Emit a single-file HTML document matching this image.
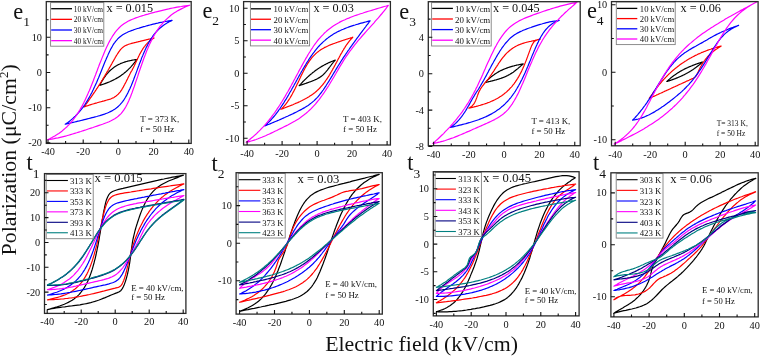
<!DOCTYPE html>
<html><head><meta charset="utf-8"><style>
html,body{margin:0;padding:0;background:#fff;width:760px;height:356px;overflow:hidden}
svg{display:block}
text{font-family:"Liberation Serif", serif;fill:#111}
svg{will-change:transform}
</style></head><body>
<svg width="760" height="356" viewBox="0 0 760 356" xmlns="http://www.w3.org/2000/svg">
<rect width="760" height="356" fill="#fff"/>
<clipPath id="ce1"><rect x="46.3" y="1.6" width="144.89999999999998" height="141.8"/></clipPath>
<g clip-path="url(#ce1)" fill="none" stroke-width="1.2" stroke-linejoin="round">
<path d="M99.7 85.3 100.2 85.2 100.6 85.1 101.1 84.9 101.5 84.8 102.0 84.6 102.4 84.5 102.9 84.3 103.3 84.2 103.7 84.0 104.2 83.9 104.6 83.7 105.1 83.6 105.5 83.4 105.9 83.2 106.4 83.1 106.8 82.9 107.2 82.7 107.7 82.6 108.1 82.4 108.5 82.2 109.0 82.0 109.4 81.9 109.8 81.7 110.3 81.5 110.7 81.3 111.1 81.1 111.5 80.9 112.0 80.7 112.4 80.5 112.8 80.3 113.2 80.1 113.6 79.9 114.0 79.7 114.5 79.5 114.9 79.3 115.3 79.0 115.7 78.8 116.1 78.6 116.5 78.4 116.9 78.1 117.3 77.9 117.7 77.7 118.1 77.4 118.5 77.2 118.9 76.9 119.3 76.7 119.7 76.4 120.1 76.2 120.5 75.9 120.9 75.6 121.2 75.4 121.6 75.1 122.0 74.8 122.4 74.5 122.7 74.3 123.1 74.0 123.5 73.7 123.9 73.4 124.2 73.1 124.6 72.8 124.9 72.5 125.3 72.2 125.7 71.9 126.0 71.6 126.4 71.3 126.7 71.0 127.0 70.7 127.4 70.4 127.7 70.0 128.1 69.7 128.4 69.4 128.7 69.1 129.1 68.7 129.4 68.4 129.7 68.1 130.0 67.7 130.4 67.4 130.7 67.1 131.0 66.7 131.3 66.4 131.6 66.0 131.9 65.7 132.2 65.3 132.5 65.0 132.8 64.6 133.1 64.3 133.4 63.9 133.7 63.5 134.0 63.2 134.3 62.8 134.6 62.4 134.9 62.1 135.2 61.7 135.5 61.3 135.8 61.0 136.0 60.6 136.3 60.2 136.6 59.9 136.9 59.5 136.4 59.5 135.9 59.6 135.4 59.7 135.0 59.7 134.5 59.8 134.0 59.9 133.5 60.0 133.1 60.0 132.6 60.1 132.1 60.2 131.6 60.3 131.2 60.4 130.7 60.5 130.2 60.6 129.8 60.7 129.3 60.8 128.8 60.9 128.4 61.0 127.9 61.1 127.4 61.2 127.0 61.4 126.5 61.5 126.0 61.6 125.6 61.8 125.1 61.9 124.7 62.1 124.2 62.2 123.7 62.4 123.3 62.5 122.8 62.7 122.4 62.9 121.9 63.0 121.5 63.2 121.0 63.4 120.6 63.6 120.2 63.8 119.7 64.0 119.3 64.2 118.9 64.4 118.4 64.6 118.0 64.8 117.6 65.1 117.2 65.3 116.7 65.6 116.3 65.8 115.9 66.1 115.5 66.3 115.1 66.6 114.7 66.8 114.3 67.1 113.9 67.4 113.5 67.7 113.2 68.0 112.8 68.3 112.4 68.6 112.0 68.9 111.7 69.2 111.3 69.5 110.9 69.8 110.6 70.1 110.2 70.5 109.9 70.8 109.5 71.1 109.2 71.5 108.9 71.8 108.5 72.2 108.2 72.5 107.9 72.9 107.6 73.3 107.3 73.6 106.9 74.0 106.6 74.4 106.3 74.7 106.0 75.1 105.8 75.5 105.5 75.9 105.2 76.3 104.9 76.7 104.6 77.1 104.3 77.5 104.1 77.8 103.8 78.2 103.5 78.7 103.3 79.1 103.0 79.5 102.8 79.9 102.5 80.3 102.3 80.7 102.0 81.1 101.8 81.5 101.5 81.9 101.3 82.4 101.1 82.8 100.8 83.2 100.6 83.6 100.4 84.1 100.2 84.5 100.0 84.9 99.7 85.3Z" stroke="#000000"/>
<path d="M83.9 107.0 84.9 106.6 85.9 106.3 86.9 105.9 87.9 105.6 88.9 105.2 89.9 104.9 90.9 104.6 91.9 104.3 92.9 104.0 93.9 103.7 94.9 103.4 95.9 103.1 97.0 102.8 98.0 102.5 99.0 102.2 100.0 102.0 101.0 101.7 102.1 101.4 103.1 101.1 104.1 100.9 105.1 100.6 106.1 100.3 107.1 100.0 108.2 99.7 109.2 99.4 110.2 99.1 111.2 98.7 112.1 98.3 113.1 97.9 114.0 97.4 114.9 96.8 115.8 96.2 116.6 95.6 117.4 94.9 118.2 94.2 118.9 93.4 119.6 92.6 120.3 91.8 120.9 90.9 121.5 90.1 122.0 89.2 122.6 88.3 123.1 87.4 123.6 86.4 124.1 85.5 124.6 84.6 125.1 83.6 125.6 82.7 126.1 81.8 126.5 80.8 127.0 79.9 127.5 78.9 127.9 78.0 128.4 77.0 128.9 76.1 129.4 75.1 129.8 74.2 130.3 73.3 130.8 72.3 131.3 71.4 131.9 70.5 132.4 69.6 132.8 68.6 133.3 67.7 133.8 66.7 134.3 65.8 134.7 64.8 135.2 63.9 135.6 62.9 136.0 62.0 136.5 61.0 136.9 60.0 137.4 59.1 137.8 58.1 138.3 57.2 138.7 56.2 139.2 55.3 139.7 54.3 140.2 53.4 140.7 52.5 141.2 51.6 141.7 50.7 142.3 49.8 142.8 48.9 143.4 48.0 144.0 47.1 144.7 46.3 145.3 45.5 146.0 44.6 146.7 43.9 147.4 43.1 148.2 42.3 149.0 41.6 149.8 40.9 150.6 40.3 151.4 39.7 152.3 39.1 153.2 38.5 154.1 38.0 153.1 38.2 152.1 38.5 151.1 38.7 150.0 39.0 149.0 39.2 148.0 39.4 147.0 39.7 145.9 39.9 144.9 40.2 143.9 40.4 142.9 40.7 141.8 40.9 140.8 41.1 139.8 41.4 138.8 41.6 137.7 41.9 136.7 42.1 135.7 42.4 134.7 42.6 133.6 42.9 132.6 43.1 131.6 43.4 130.6 43.7 129.6 44.0 128.6 44.3 127.6 44.7 126.6 45.1 125.7 45.5 124.7 46.0 123.9 46.6 123.0 47.2 122.2 47.9 121.5 48.6 120.7 49.4 120.1 50.2 119.4 51.1 118.8 51.9 118.2 52.8 117.6 53.7 117.1 54.5 116.5 55.4 116.0 56.3 115.4 57.2 114.9 58.2 114.4 59.1 113.9 60.0 113.4 60.9 112.8 61.8 112.3 62.7 111.8 63.7 111.3 64.6 110.8 65.5 110.3 66.4 109.7 67.3 109.2 68.2 108.7 69.2 108.2 70.1 107.7 71.0 107.1 71.9 106.6 72.8 106.1 73.7 105.5 74.6 105.0 75.5 104.5 76.4 103.9 77.3 103.4 78.2 102.8 79.1 102.3 80.0 101.7 80.9 101.2 81.8 100.6 82.7 100.1 83.6 99.5 84.5 98.9 85.4 98.4 86.3 97.8 87.2 97.2 88.1 96.6 88.9 96.1 89.8 95.5 90.7 94.9 91.6 94.3 92.4 93.7 93.3 93.1 94.2 92.5 95.1 91.9 95.9 91.3 96.8 90.7 97.6 90.1 98.5 89.5 99.4 88.9 100.2 88.3 101.1 87.7 101.9 87.1 102.8 86.4 103.6 85.8 104.5 85.2 105.3 84.5 106.2 83.9 107.0Z" stroke="#ff0000"/>
<path d="M65.2 124.2 66.8 123.9 68.4 123.5 70.0 123.1 71.6 122.7 73.1 122.4 74.7 122.0 76.3 121.6 77.9 121.2 79.4 120.9 81.0 120.5 82.6 120.1 84.2 119.7 85.7 119.3 87.3 118.9 88.9 118.5 90.4 118.1 92.0 117.7 93.6 117.3 95.1 116.9 96.7 116.5 98.3 116.0 99.8 115.6 101.4 115.1 102.9 114.6 104.5 114.1 106.0 113.5 107.5 113.0 109.0 112.3 110.4 111.6 111.9 110.9 113.3 110.1 114.7 109.2 116.0 108.3 117.3 107.3 118.5 106.2 119.6 105.1 120.7 103.9 121.8 102.7 122.8 101.4 123.7 100.1 124.6 98.7 125.5 97.3 126.3 95.9 127.0 94.5 127.8 93.1 128.5 91.6 129.2 90.1 129.9 88.7 130.5 87.2 131.2 85.7 131.8 84.2 132.4 82.7 133.0 81.2 133.6 79.7 134.1 78.2 134.7 76.7 135.3 75.1 135.9 73.6 136.4 72.1 137.0 70.6 137.5 69.1 138.1 67.5 138.7 66.0 139.2 64.5 139.8 63.0 140.4 61.5 141.0 60.0 141.5 58.4 142.1 56.9 142.8 55.4 143.4 53.9 144.0 52.5 144.7 51.0 145.3 49.5 146.0 48.0 146.7 46.6 147.5 45.1 148.2 43.7 149.0 42.3 149.8 40.9 150.6 39.5 151.5 38.1 152.4 36.8 153.3 35.4 154.3 34.1 155.3 32.9 156.4 31.7 157.5 30.5 158.6 29.3 159.8 28.2 161.1 27.2 162.3 26.2 163.6 25.2 165.0 24.3 166.3 23.4 167.7 22.6 169.2 21.8 170.6 21.1 172.1 20.4 170.5 20.6 168.9 20.9 167.3 21.2 165.7 21.4 164.1 21.7 162.5 22.1 161.0 22.4 159.4 22.7 157.8 23.1 156.2 23.4 154.7 23.8 153.1 24.2 151.5 24.6 150.0 25.0 148.4 25.4 146.8 25.8 145.3 26.3 143.7 26.7 142.2 27.1 140.6 27.6 139.1 28.1 137.5 28.5 136.0 29.0 134.5 29.5 132.9 30.1 131.4 30.6 129.9 31.2 128.4 31.8 127.0 32.5 125.5 33.2 124.1 34.0 122.7 34.8 121.4 35.7 120.1 36.7 118.9 37.8 117.7 38.9 116.7 40.1 115.6 41.3 114.7 42.6 113.7 43.9 112.9 45.3 112.1 46.7 111.3 48.1 110.5 49.5 109.8 51.0 109.1 52.4 108.4 53.9 107.8 55.4 107.1 56.9 106.5 58.3 105.9 59.8 105.2 61.3 104.6 62.8 104.0 64.3 103.4 65.8 102.8 67.3 102.2 68.8 101.6 70.3 101.0 71.8 100.4 73.3 99.8 74.8 99.2 76.3 98.6 77.8 97.9 79.3 97.3 80.7 96.7 82.2 96.0 83.7 95.3 85.2 94.7 86.6 94.0 88.1 93.3 89.6 92.6 91.0 91.9 92.5 91.1 93.9 90.4 95.3 89.6 96.7 88.8 98.1 88.0 99.5 87.2 100.9 86.3 102.3 85.5 103.7 84.6 105.0 83.6 106.3 82.7 107.6 81.7 108.9 80.7 110.2 79.7 111.4 78.6 112.7 77.5 113.8 76.4 115.0 75.3 116.2 74.1 117.3 72.9 118.4 71.7 119.4 70.5 120.4 69.2 121.4 67.9 122.4 66.6 123.3 65.2 124.2Z" stroke="#0000ff"/>
<path d="M47.6 139.7 49.8 139.4 51.9 139.1 54.0 138.7 56.1 138.2 58.2 137.8 60.2 137.3 62.3 136.8 64.4 136.3 66.5 135.8 68.5 135.2 70.6 134.6 72.6 134.0 74.7 133.4 76.7 132.8 78.8 132.1 80.8 131.5 82.8 130.8 84.9 130.2 86.9 129.5 88.9 128.8 91.0 128.1 93.0 127.5 95.0 126.8 97.0 126.1 99.0 125.4 101.1 124.7 103.1 124.0 105.1 123.2 107.1 122.5 109.1 121.7 111.0 120.8 112.9 119.8 114.8 118.8 116.6 117.6 118.2 116.3 119.8 114.8 121.3 113.3 122.6 111.6 123.9 109.9 125.0 108.1 126.1 106.2 127.1 104.3 128.0 102.4 128.9 100.5 129.7 98.5 130.6 96.5 131.3 94.5 132.1 92.5 132.8 90.5 133.5 88.5 134.3 86.5 134.9 84.5 135.6 82.4 136.3 80.4 137.0 78.4 137.7 76.4 138.3 74.3 139.0 72.3 139.7 70.3 140.4 68.3 141.1 66.2 141.8 64.2 142.5 62.2 143.2 60.2 143.9 58.2 144.7 56.2 145.5 54.2 146.2 52.2 147.0 50.2 147.9 48.2 148.7 46.3 149.6 44.3 150.5 42.4 151.5 40.5 152.4 38.6 153.4 36.7 154.5 34.8 155.6 33.0 156.7 31.2 157.9 29.4 159.1 27.6 160.4 25.9 161.8 24.3 163.1 22.6 164.6 21.1 166.1 19.6 167.7 18.1 169.3 16.7 170.9 15.3 172.6 14.1 174.4 12.8 176.2 11.7 178.0 10.6 179.9 9.6 181.8 8.6 183.7 7.7 185.7 6.8 187.7 6.0 189.7 5.3 187.6 5.5 185.5 5.8 183.3 6.1 181.2 6.5 179.1 6.8 177.0 7.2 174.9 7.6 172.8 8.0 170.8 8.4 168.7 8.9 166.6 9.3 164.5 9.8 162.4 10.3 160.4 10.8 158.3 11.3 156.2 11.8 154.2 12.4 152.1 12.9 150.0 13.5 148.0 14.1 145.9 14.6 143.9 15.3 141.9 15.9 139.8 16.5 137.8 17.2 135.8 17.9 133.8 18.7 131.8 19.5 129.9 20.4 128.0 21.3 126.1 22.4 124.3 23.5 122.6 24.8 120.9 26.1 119.4 27.5 117.9 29.1 116.5 30.7 115.1 32.3 113.9 34.1 112.7 35.8 111.6 37.7 110.5 39.5 109.5 41.4 108.5 43.3 107.6 45.2 106.7 47.1 105.8 49.0 104.9 51.0 104.1 53.0 103.3 54.9 102.5 56.9 101.7 58.9 100.9 60.9 100.1 62.8 99.3 64.8 98.6 66.8 97.8 68.8 97.1 70.8 96.3 72.8 95.6 74.8 94.8 76.8 94.0 78.8 93.3 80.8 92.5 82.8 91.7 84.7 90.9 86.7 90.1 88.7 89.3 90.7 88.4 92.6 87.6 94.6 86.7 96.5 85.8 98.5 84.9 100.4 84.0 102.3 83.0 104.2 82.0 106.1 81.0 107.9 79.9 109.8 78.8 111.6 77.7 113.4 76.5 115.2 75.3 117.0 74.0 118.7 72.7 120.4 71.4 122.0 70.0 123.6 68.5 125.2 67.0 126.7 65.4 128.1 63.8 129.5 62.2 130.9 60.5 132.2 58.8 133.4 57.0 134.6 55.2 135.7 53.3 136.8 51.5 137.8 49.6 138.8 47.6 139.7Z" stroke="#ff00ff"/>
</g>
<rect x="50.6" y="2.6" width="53.199999999999996" height="43.6" fill="#fff" stroke="#808080" stroke-width="0.9"/>
<line x1="51.2" x2="72" y1="8.7" y2="8.7" stroke="#000000" stroke-width="1.3"/>
<text x="73.70" y="11.74" font-size="7.4" text-anchor="start" >10 kV/cm</text>
<line x1="51.2" x2="72" y1="19.35" y2="19.35" stroke="#ff0000" stroke-width="1.3"/>
<text x="73.70" y="22.39" font-size="7.4" text-anchor="start" >20 kV/cm</text>
<line x1="51.2" x2="72" y1="30.0" y2="30.0" stroke="#0000ff" stroke-width="1.3"/>
<text x="73.70" y="33.04" font-size="7.4" text-anchor="start" >30 kV/cm</text>
<line x1="51.2" x2="72" y1="40.650000000000006" y2="40.650000000000006" stroke="#ff00ff" stroke-width="1.3"/>
<text x="73.70" y="43.69" font-size="7.4" text-anchor="start" >40 kV/cm</text>
<rect x="46.3" y="1.6" width="144.89999999999998" height="141.8" fill="none" stroke="#2a2a2a" stroke-width="1.3"/>
<path d="M48.00 143.4 v-4 M83.20 143.4 v-4 M118.40 143.4 v-4 M153.60 143.4 v-4 M188.80 143.4 v-4 M65.60 143.4 v-2.3 M100.80 143.4 v-2.3 M136.00 143.4 v-2.3 M171.20 143.4 v-2.3 M46.3 37.30 h4 M46.3 72.50 h4 M46.3 107.70 h4 M46.3 142.90 h4 M46.3 19.70 h2.3 M46.3 54.90 h2.3 M46.3 90.10 h2.3 M46.3 125.30 h2.3" stroke="#111" stroke-width="1.1" fill="none"/>
<text x="48.00" y="155.20" font-size="10.3" text-anchor="middle" >-40</text>
<text x="83.20" y="155.20" font-size="10.3" text-anchor="middle" >-20</text>
<text x="118.40" y="155.20" font-size="10.3" text-anchor="middle" >0</text>
<text x="153.60" y="155.20" font-size="10.3" text-anchor="middle" >20</text>
<text x="188.80" y="155.20" font-size="10.3" text-anchor="middle" >40</text>
<text x="42.00" y="40.80" font-size="10.3" text-anchor="end" >10</text>
<text x="42.00" y="76.00" font-size="10.3" text-anchor="end" >0</text>
<text x="42.00" y="111.20" font-size="10.3" text-anchor="end" >-10</text>
<text x="42.00" y="146.40" font-size="10.3" text-anchor="end" >-20</text>
<text x="13.2" y="18.6" font-size="22.4">e<tspan font-size="13.5" dy="7.3">1</tspan></text>
<text x="106.50" y="12.00" font-size="12.2" text-anchor="start" >x = 0.015</text>
<text x="140.30" y="121.90" font-size="8.9" text-anchor="start" >T = 373 K,</text>
<text x="140.30" y="132.30" font-size="8.9" text-anchor="start" >f = 50 Hz</text>
<clipPath id="ce2"><rect x="243.6" y="1.6" width="146.79999999999998" height="143.4"/></clipPath>
<g clip-path="url(#ce2)" fill="none" stroke-width="1.2" stroke-linejoin="round">
<path d="M299.2 85.6 299.7 85.4 300.1 85.3 300.6 85.1 301.0 85.0 301.4 84.9 301.9 84.7 302.3 84.6 302.7 84.4 303.2 84.3 303.6 84.1 304.0 84.0 304.5 83.8 304.9 83.7 305.3 83.5 305.8 83.4 306.2 83.2 306.6 83.1 307.1 82.9 307.5 82.8 307.9 82.6 308.4 82.5 308.8 82.3 309.2 82.1 309.7 82.0 310.1 81.8 310.5 81.7 311.0 81.5 311.4 81.3 311.8 81.2 312.3 81.0 312.7 80.8 313.1 80.7 313.5 80.5 314.0 80.3 314.4 80.1 314.8 80.0 315.2 79.8 315.6 79.6 316.1 79.4 316.5 79.2 316.9 79.0 317.3 78.8 317.7 78.6 318.1 78.3 318.5 78.1 318.9 77.9 319.3 77.6 319.7 77.4 320.1 77.2 320.4 76.9 320.8 76.6 321.2 76.4 321.6 76.1 321.9 75.8 322.3 75.5 322.6 75.2 323.0 74.9 323.3 74.6 323.6 74.3 324.0 74.0 324.3 73.6 324.6 73.3 324.9 73.0 325.2 72.6 325.5 72.3 325.8 71.9 326.1 71.6 326.4 71.2 326.7 70.9 327.0 70.5 327.3 70.2 327.6 69.8 327.9 69.4 328.1 69.1 328.4 68.7 328.7 68.3 329.0 68.0 329.2 67.6 329.5 67.2 329.8 66.9 330.1 66.5 330.3 66.1 330.6 65.8 330.9 65.4 331.2 65.0 331.4 64.7 331.7 64.3 332.0 63.9 332.3 63.6 332.6 63.2 332.9 62.8 333.1 62.5 333.4 62.1 333.7 61.8 334.0 61.4 334.4 61.1 334.7 60.8 335.0 60.4 335.3 60.1 334.9 60.3 334.5 60.4 334.0 60.6 333.6 60.7 333.2 60.9 332.8 61.0 332.3 61.2 331.9 61.4 331.5 61.5 331.1 61.7 330.7 61.9 330.3 62.1 329.8 62.3 329.4 62.4 329.0 62.6 328.6 62.8 328.2 63.0 327.8 63.2 327.4 63.4 327.0 63.6 326.6 63.8 326.2 64.0 325.8 64.2 325.4 64.4 325.0 64.6 324.6 64.8 324.2 65.0 323.8 65.3 323.4 65.5 323.0 65.7 322.6 65.9 322.2 66.1 321.8 66.4 321.4 66.6 321.1 66.8 320.7 67.1 320.3 67.3 319.9 67.6 319.5 67.8 319.1 68.0 318.8 68.3 318.4 68.5 318.0 68.8 317.6 69.0 317.3 69.3 316.9 69.6 316.5 69.8 316.2 70.1 315.8 70.3 315.4 70.6 315.1 70.9 314.7 71.1 314.4 71.4 314.0 71.7 313.6 72.0 313.3 72.2 312.9 72.5 312.6 72.8 312.2 73.1 311.9 73.4 311.5 73.7 311.2 73.9 310.8 74.2 310.5 74.5 310.2 74.8 309.8 75.1 309.5 75.4 309.1 75.7 308.8 76.0 308.5 76.3 308.1 76.6 307.8 76.9 307.5 77.2 307.1 77.5 306.8 77.8 306.5 78.1 306.1 78.5 305.8 78.8 305.5 79.1 305.2 79.4 304.8 79.7 304.5 80.0 304.2 80.3 303.9 80.7 303.6 81.0 303.3 81.3 302.9 81.6 302.6 82.0 302.3 82.3 302.0 82.6 301.7 82.9 301.4 83.3 301.1 83.6 300.8 83.9 300.5 84.3 300.2 84.6 299.9 84.9 299.6 85.3 299.2 85.6Z" stroke="#000000"/>
<path d="M280.9 109.3 281.9 108.9 282.9 108.6 283.9 108.2 284.9 107.8 285.9 107.4 286.8 107.0 287.8 106.6 288.8 106.2 289.8 105.9 290.8 105.5 291.8 105.1 292.8 104.7 293.8 104.2 294.8 103.8 295.7 103.4 296.7 103.0 297.7 102.6 298.7 102.1 299.6 101.7 300.6 101.2 301.6 100.8 302.5 100.3 303.5 99.8 304.4 99.3 305.4 98.8 306.3 98.3 307.2 97.8 308.1 97.2 309.0 96.7 309.9 96.1 310.8 95.5 311.7 94.9 312.6 94.3 313.4 93.7 314.3 93.0 315.1 92.4 315.9 91.7 316.7 91.0 317.5 90.2 318.3 89.5 319.0 88.8 319.8 88.0 320.5 87.2 321.2 86.4 321.9 85.6 322.6 84.8 323.3 84.0 323.9 83.1 324.6 82.3 325.2 81.4 325.8 80.5 326.4 79.7 327.0 78.8 327.6 77.9 328.2 77.0 328.8 76.1 329.3 75.2 329.9 74.3 330.4 73.4 330.9 72.4 331.5 71.5 332.0 70.6 332.5 69.7 333.0 68.7 333.6 67.8 334.1 66.9 334.6 65.9 335.1 65.0 335.6 64.0 336.1 63.1 336.6 62.2 337.1 61.2 337.6 60.3 338.1 59.3 338.6 58.4 339.1 57.5 339.6 56.5 340.1 55.6 340.6 54.6 341.1 53.7 341.7 52.8 342.2 51.9 342.7 50.9 343.3 50.0 343.8 49.1 344.4 48.2 345.0 47.3 345.5 46.4 346.1 45.5 346.7 44.6 347.3 43.8 348.0 42.9 348.6 42.1 349.3 41.2 349.9 40.4 350.6 39.6 351.3 38.8 352.1 38.0 352.8 37.2 351.8 37.6 350.7 37.9 349.7 38.2 348.7 38.5 347.7 38.9 346.6 39.2 345.6 39.5 344.6 39.9 343.5 40.2 342.5 40.5 341.5 40.9 340.5 41.2 339.4 41.6 338.4 41.9 337.4 42.3 336.4 42.6 335.4 43.0 334.3 43.4 333.3 43.7 332.3 44.1 331.3 44.5 330.3 44.9 329.3 45.3 328.3 45.8 327.3 46.2 326.4 46.7 325.4 47.1 324.4 47.6 323.5 48.2 322.5 48.7 321.6 49.2 320.7 49.8 319.8 50.4 318.9 51.1 318.1 51.7 317.2 52.4 316.4 53.1 315.6 53.8 314.8 54.6 314.1 55.3 313.3 56.1 312.6 56.9 311.9 57.7 311.2 58.6 310.6 59.4 309.9 60.3 309.3 61.2 308.7 62.1 308.1 63.0 307.5 63.9 307.0 64.8 306.4 65.8 305.9 66.7 305.3 67.6 304.8 68.6 304.3 69.5 303.8 70.5 303.3 71.5 302.8 72.4 302.3 73.4 301.9 74.4 301.4 75.3 300.9 76.3 300.5 77.3 300.0 78.2 299.5 79.2 299.1 80.2 298.6 81.2 298.2 82.2 297.7 83.1 297.2 84.1 296.8 85.1 296.3 86.1 295.8 87.0 295.4 88.0 294.9 89.0 294.4 89.9 293.9 90.9 293.4 91.9 292.9 92.8 292.4 93.8 291.9 94.7 291.4 95.7 290.8 96.6 290.3 97.5 289.7 98.5 289.1 99.4 288.5 100.3 287.9 101.2 287.3 102.1 286.7 102.9 286.0 103.8 285.4 104.6 284.7 105.5 283.9 106.3 283.2 107.1 282.5 107.8 281.7 108.6 280.9 109.3Z" stroke="#ff0000"/>
<path d="M264.8 125.9 266.2 125.4 267.6 124.8 269.1 124.2 270.5 123.6 271.9 123.0 273.4 122.4 274.8 121.8 276.2 121.2 277.6 120.6 279.1 120.0 280.5 119.4 281.9 118.7 283.3 118.1 284.7 117.5 286.2 116.8 287.6 116.2 289.0 115.5 290.4 114.9 291.8 114.2 293.2 113.6 294.6 112.9 296.0 112.2 297.4 111.5 298.7 110.8 300.1 110.1 301.5 109.4 302.8 108.6 304.2 107.9 305.5 107.1 306.8 106.2 308.1 105.4 309.4 104.5 310.6 103.6 311.8 102.6 313.0 101.6 314.2 100.6 315.3 99.5 316.4 98.4 317.5 97.3 318.5 96.1 319.5 94.9 320.4 93.7 321.4 92.5 322.3 91.2 323.2 90.0 324.1 88.7 324.9 87.4 325.8 86.1 326.6 84.8 327.4 83.5 328.3 82.2 329.1 80.9 329.9 79.5 330.7 78.2 331.5 76.9 332.3 75.6 333.1 74.2 333.9 72.9 334.7 71.6 335.5 70.3 336.3 68.9 337.1 67.6 337.9 66.3 338.7 65.0 339.6 63.7 340.4 62.4 341.2 61.0 342.1 59.7 342.9 58.4 343.7 57.2 344.6 55.9 345.5 54.6 346.3 53.3 347.2 52.0 348.1 50.7 349.0 49.5 349.9 48.2 350.8 46.9 351.7 45.7 352.6 44.4 353.5 43.1 354.4 41.9 355.3 40.6 356.2 39.4 357.1 38.1 358.1 36.9 359.0 35.7 359.9 34.4 360.8 33.2 361.8 31.9 362.7 30.7 363.6 29.5 364.6 28.2 365.5 27.0 366.4 25.7 367.3 24.5 368.3 23.3 369.2 22.0 370.1 20.8 368.6 21.2 367.1 21.6 365.6 22.0 364.1 22.4 362.6 22.8 361.1 23.2 359.5 23.6 358.0 24.1 356.5 24.5 355.0 25.0 353.6 25.4 352.1 25.9 350.6 26.4 349.1 26.9 347.6 27.5 346.2 28.0 344.7 28.6 343.3 29.2 341.8 29.8 340.4 30.5 339.0 31.1 337.6 31.8 336.2 32.6 334.8 33.3 333.5 34.1 332.2 34.9 330.9 35.8 329.6 36.7 328.3 37.6 327.1 38.6 325.9 39.5 324.7 40.6 323.5 41.6 322.4 42.7 321.2 43.8 320.1 44.9 319.1 46.0 318.0 47.2 317.0 48.4 316.0 49.6 315.0 50.8 314.1 52.1 313.1 53.3 312.2 54.6 311.3 55.8 310.4 57.1 309.6 58.4 308.7 59.7 307.9 61.1 307.0 62.4 306.2 63.7 305.4 65.1 304.6 66.4 303.8 67.7 303.0 69.1 302.2 70.5 301.4 71.8 300.7 73.2 299.9 74.5 299.1 75.9 298.4 77.3 297.6 78.6 296.9 80.0 296.1 81.4 295.4 82.8 294.6 84.1 293.9 85.5 293.1 86.9 292.3 88.2 291.6 89.6 290.8 91.0 290.0 92.3 289.2 93.7 288.5 95.0 287.7 96.4 286.9 97.7 286.1 99.1 285.2 100.4 284.4 101.7 283.6 103.1 282.7 104.4 281.9 105.7 281.0 107.0 280.1 108.3 279.2 109.5 278.3 110.8 277.4 112.1 276.4 113.3 275.5 114.6 274.5 115.8 273.5 117.0 272.5 118.2 271.4 119.3 270.4 120.5 269.3 121.6 268.2 122.7 267.1 123.8 265.9 124.9 264.8 125.9Z" stroke="#0000ff"/>
<path d="M246.2 142.2 248.2 141.8 250.2 141.3 252.2 140.7 254.2 140.1 256.1 139.5 258.0 138.8 259.9 138.0 261.8 137.3 263.7 136.5 265.6 135.7 267.5 134.8 269.4 134.0 271.2 133.1 273.1 132.2 274.9 131.3 276.8 130.5 278.6 129.5 280.4 128.6 282.3 127.7 284.1 126.8 286.0 125.9 287.8 125.0 289.6 124.0 291.4 123.0 293.2 122.0 295.0 121.0 296.7 120.0 298.5 118.9 300.2 117.7 301.8 116.5 303.5 115.3 305.1 114.1 306.7 112.7 308.2 111.4 309.7 110.0 311.2 108.6 312.6 107.1 314.0 105.6 315.4 104.1 316.7 102.5 318.0 100.9 319.3 99.3 320.5 97.7 321.7 96.0 322.9 94.3 324.1 92.7 325.2 91.0 326.4 89.2 327.5 87.5 328.6 85.8 329.7 84.0 330.7 82.3 331.8 80.5 332.8 78.8 333.9 77.0 334.9 75.2 335.9 73.5 336.9 71.7 338.0 69.9 339.0 68.1 340.0 66.4 341.1 64.6 342.2 62.9 343.2 61.1 344.3 59.4 345.4 57.7 346.6 55.9 347.7 54.3 348.9 52.6 350.1 50.9 351.4 49.3 352.6 47.6 353.9 46.0 355.1 44.4 356.4 42.8 357.7 41.2 359.0 39.7 360.4 38.1 361.7 36.5 363.0 35.0 364.4 33.5 365.8 31.9 367.1 30.4 368.5 28.9 369.9 27.3 371.2 25.8 372.6 24.3 374.0 22.8 375.3 21.2 376.7 19.7 378.1 18.2 379.4 16.6 380.7 15.0 382.0 13.5 383.3 11.9 384.6 10.3 385.9 8.7 387.1 7.0 388.3 5.4 386.3 6.0 384.3 6.5 382.3 7.1 380.3 7.7 378.4 8.3 376.4 8.9 374.4 9.5 372.4 10.1 370.4 10.7 368.4 11.3 366.4 11.9 364.4 12.5 362.5 13.2 360.5 13.8 358.5 14.5 356.6 15.1 354.6 15.8 352.7 16.5 350.7 17.3 348.8 18.1 346.9 18.8 345.0 19.7 343.1 20.5 341.2 21.4 339.3 22.4 337.5 23.4 335.7 24.4 334.0 25.5 332.2 26.7 330.6 27.9 328.9 29.2 327.3 30.5 325.8 31.9 324.2 33.3 322.8 34.8 321.3 36.3 320.0 37.8 318.6 39.4 317.3 41.0 316.1 42.7 314.8 44.4 313.6 46.0 312.5 47.8 311.3 49.5 310.2 51.3 309.1 53.0 308.0 54.8 307.0 56.6 305.9 58.4 304.9 60.2 303.9 62.0 302.9 63.8 301.9 65.6 300.9 67.5 299.9 69.3 298.9 71.1 298.0 73.0 297.0 74.8 296.0 76.6 295.0 78.5 294.0 80.3 293.1 82.1 292.1 83.9 291.1 85.8 290.1 87.6 289.1 89.4 288.1 91.2 287.0 93.0 286.0 94.8 285.0 96.6 283.9 98.4 282.8 100.2 281.7 102.0 280.6 103.7 279.5 105.5 278.4 107.2 277.2 108.9 276.1 110.7 274.9 112.4 273.7 114.0 272.4 115.7 271.2 117.4 269.9 119.0 268.6 120.6 267.3 122.2 265.9 123.8 264.6 125.4 263.2 126.9 261.7 128.4 260.3 129.9 258.8 131.4 257.3 132.8 255.8 134.3 254.3 135.6 252.7 137.0 251.1 138.3 249.5 139.7 247.9 140.9 246.2 142.2Z" stroke="#ff00ff"/>
</g>
<rect x="250.4" y="2.6" width="59.20000000000002" height="43.3" fill="#fff" stroke="#808080" stroke-width="0.9"/>
<line x1="251" x2="271" y1="8.8" y2="8.8" stroke="#000000" stroke-width="1.3"/>
<text x="273.50" y="12.29" font-size="8.75" text-anchor="start" >10 kV/cm</text>
<line x1="251" x2="271" y1="19.25" y2="19.25" stroke="#ff0000" stroke-width="1.3"/>
<text x="273.50" y="22.74" font-size="8.75" text-anchor="start" >20 kV/cm</text>
<line x1="251" x2="271" y1="29.7" y2="29.7" stroke="#0000ff" stroke-width="1.3"/>
<text x="273.50" y="33.19" font-size="8.75" text-anchor="start" >30 kV/cm</text>
<line x1="251" x2="271" y1="40.15" y2="40.15" stroke="#ff00ff" stroke-width="1.3"/>
<text x="273.50" y="43.64" font-size="8.75" text-anchor="start" >40 kV/cm</text>
<rect x="243.6" y="1.6" width="146.79999999999998" height="143.4" fill="none" stroke="#2a2a2a" stroke-width="1.3"/>
<path d="M247.10 145.0 v-4 M282.10 145.0 v-4 M317.10 145.0 v-4 M352.10 145.0 v-4 M387.10 145.0 v-4 M264.60 145.0 v-2.3 M299.60 145.0 v-2.3 M334.60 145.0 v-2.3 M369.60 145.0 v-2.3 M243.6 8.30 h4 M243.6 40.80 h4 M243.6 73.30 h4 M243.6 105.80 h4 M243.6 138.30 h4 M243.6 24.55 h2.3 M243.6 57.05 h2.3 M243.6 89.55 h2.3 M243.6 122.05 h2.3" stroke="#111" stroke-width="1.1" fill="none"/>
<text x="247.10" y="156.80" font-size="10.3" text-anchor="middle" >-40</text>
<text x="282.10" y="156.80" font-size="10.3" text-anchor="middle" >-20</text>
<text x="317.10" y="156.80" font-size="10.3" text-anchor="middle" >0</text>
<text x="352.10" y="156.80" font-size="10.3" text-anchor="middle" >20</text>
<text x="387.10" y="156.80" font-size="10.3" text-anchor="middle" >40</text>
<text x="239.30" y="11.80" font-size="10.3" text-anchor="end" >10</text>
<text x="239.30" y="44.30" font-size="10.3" text-anchor="end" >5</text>
<text x="239.30" y="76.80" font-size="10.3" text-anchor="end" >0</text>
<text x="239.30" y="109.30" font-size="10.3" text-anchor="end" >-5</text>
<text x="239.30" y="141.80" font-size="10.3" text-anchor="end" >-10</text>
<text x="202.4" y="17.6" font-size="22.4">e<tspan font-size="13.5" dy="7.3">2</tspan></text>
<text x="313.40" y="12.00" font-size="12.2" text-anchor="start" >x = 0.03</text>
<text x="343.00" y="121.90" font-size="8.9" text-anchor="start" >T = 403 K,</text>
<text x="343.00" y="132.40" font-size="8.9" text-anchor="start" >f = 50 Hz</text>
<clipPath id="ce3"><rect x="428.3" y="1.7" width="151.90000000000003" height="144.0"/></clipPath>
<g clip-path="url(#ce3)" fill="none" stroke-width="1.2" stroke-linejoin="round">
<path d="M485.3 82.5 485.7 82.4 486.2 82.3 486.6 82.2 487.0 82.1 487.4 82.0 487.9 81.9 488.3 81.8 488.7 81.7 489.1 81.6 489.5 81.5 490.0 81.4 490.4 81.3 490.8 81.2 491.2 81.1 491.7 81.0 492.1 80.9 492.5 80.8 492.9 80.7 493.3 80.6 493.8 80.5 494.2 80.3 494.6 80.2 495.0 80.1 495.4 80.0 495.9 79.9 496.3 79.8 496.7 79.7 497.1 79.5 497.5 79.4 497.9 79.3 498.4 79.2 498.8 79.0 499.2 78.9 499.6 78.8 500.0 78.6 500.4 78.5 500.8 78.4 501.2 78.2 501.7 78.1 502.1 77.9 502.5 77.8 502.9 77.6 503.3 77.5 503.7 77.3 504.1 77.2 504.5 77.0 504.9 76.8 505.3 76.7 505.7 76.5 506.1 76.3 506.5 76.1 506.9 75.9 507.3 75.7 507.7 75.5 508.0 75.3 508.4 75.1 508.8 74.9 509.2 74.7 509.6 74.5 509.9 74.3 510.3 74.1 510.7 73.8 511.0 73.6 511.4 73.4 511.8 73.1 512.1 72.9 512.5 72.7 512.9 72.4 513.2 72.2 513.6 71.9 513.9 71.6 514.3 71.4 514.6 71.1 514.9 70.9 515.3 70.6 515.6 70.3 516.0 70.0 516.3 69.8 516.6 69.5 517.0 69.2 517.3 68.9 517.6 68.7 518.0 68.4 518.3 68.1 518.6 67.8 519.0 67.5 519.3 67.2 519.6 67.0 519.9 66.7 520.3 66.4 520.6 66.1 520.9 65.8 521.3 65.5 521.6 65.3 521.9 65.0 522.2 64.7 522.6 64.4 522.9 64.1 523.3 63.9 522.8 63.9 522.4 64.0 522.0 64.1 521.5 64.2 521.1 64.3 520.7 64.3 520.2 64.4 519.8 64.5 519.4 64.6 519.0 64.7 518.5 64.8 518.1 64.9 517.7 65.0 517.3 65.0 516.8 65.1 516.4 65.2 516.0 65.3 515.6 65.4 515.1 65.5 514.7 65.6 514.3 65.8 513.9 65.9 513.4 66.0 513.0 66.1 512.6 66.2 512.2 66.3 511.8 66.4 511.3 66.6 510.9 66.7 510.5 66.8 510.1 66.9 509.7 67.1 509.3 67.2 508.8 67.3 508.4 67.5 508.0 67.6 507.6 67.8 507.2 67.9 506.8 68.1 506.4 68.2 506.0 68.4 505.6 68.5 505.2 68.7 504.8 68.8 504.4 69.0 503.9 69.2 503.5 69.3 503.1 69.5 502.8 69.7 502.4 69.9 502.0 70.1 501.6 70.3 501.2 70.4 500.8 70.6 500.4 70.8 500.0 71.0 499.6 71.2 499.2 71.4 498.8 71.6 498.5 71.9 498.1 72.1 497.7 72.3 497.3 72.5 497.0 72.7 496.6 73.0 496.2 73.2 495.9 73.4 495.5 73.7 495.1 73.9 494.8 74.2 494.4 74.4 494.0 74.7 493.7 74.9 493.3 75.2 493.0 75.4 492.6 75.7 492.3 76.0 492.0 76.2 491.6 76.5 491.3 76.8 490.9 77.0 490.6 77.3 490.3 77.6 489.9 77.9 489.6 78.2 489.3 78.5 489.0 78.8 488.7 79.1 488.3 79.4 488.0 79.7 487.7 80.0 487.4 80.3 487.1 80.6 486.8 80.9 486.5 81.2 486.2 81.6 485.9 81.9 485.6 82.2 485.3 82.5Z" stroke="#000000"/>
<path d="M468.9 108.1 470.0 107.9 471.0 107.6 472.1 107.4 473.1 107.1 474.1 106.9 475.2 106.6 476.2 106.4 477.2 106.1 478.3 105.8 479.3 105.5 480.3 105.3 481.4 104.9 482.4 104.6 483.4 104.3 484.4 104.0 485.4 103.6 486.5 103.3 487.5 102.9 488.5 102.5 489.5 102.2 490.4 101.7 491.4 101.3 492.4 100.9 493.4 100.4 494.3 100.0 495.3 99.5 496.2 99.0 497.2 98.5 498.1 98.0 499.0 97.4 499.9 96.8 500.8 96.3 501.7 95.7 502.6 95.0 503.5 94.4 504.3 93.7 505.1 93.1 506.0 92.4 506.8 91.7 507.5 91.0 508.3 90.2 509.1 89.5 509.8 88.7 510.5 87.9 511.3 87.1 512.0 86.3 512.6 85.5 513.3 84.6 514.0 83.8 514.6 82.9 515.2 82.1 515.8 81.2 516.4 80.3 517.0 79.4 517.6 78.5 518.1 77.6 518.7 76.6 519.2 75.7 519.7 74.8 520.2 73.8 520.7 72.9 521.2 71.9 521.7 71.0 522.1 70.0 522.6 69.0 523.0 68.1 523.5 67.1 523.9 66.1 524.3 65.1 524.7 64.1 525.1 63.1 525.5 62.1 525.9 61.1 526.3 60.1 526.7 59.1 527.0 58.1 527.4 57.1 527.8 56.1 528.1 55.1 528.5 54.1 528.9 53.1 529.2 52.1 529.6 51.1 530.0 50.1 530.3 49.1 530.7 48.1 531.1 47.1 531.5 46.1 532.0 45.1 532.5 44.2 533.0 43.3 533.6 42.4 534.3 41.6 535.2 40.9 536.1 40.4 537.1 39.9 538.1 39.6 539.1 39.4 540.2 39.2 539.2 39.4 538.1 39.7 537.1 39.9 536.1 40.1 535.0 40.4 534.0 40.6 533.0 40.8 532.0 41.0 530.9 41.3 529.9 41.5 528.9 41.7 527.9 42.0 526.8 42.2 525.8 42.5 524.8 42.8 523.8 43.1 522.8 43.4 521.8 43.7 520.8 44.1 519.8 44.5 518.8 44.9 517.9 45.3 516.9 45.8 516.0 46.2 515.1 46.7 514.2 47.3 513.3 47.8 512.4 48.4 511.5 49.0 510.7 49.7 509.9 50.3 509.1 51.0 508.3 51.7 507.5 52.4 506.7 53.1 506.0 53.9 505.3 54.7 504.6 55.5 503.9 56.3 503.2 57.1 502.6 57.9 502.0 58.7 501.3 59.6 500.7 60.4 500.1 61.3 499.5 62.2 498.9 63.0 498.3 63.9 497.8 64.8 497.2 65.7 496.6 66.6 496.0 67.4 495.5 68.3 494.9 69.2 494.3 70.1 493.8 71.0 493.2 71.9 492.6 72.7 492.0 73.6 491.4 74.5 490.8 75.4 490.2 76.2 489.6 77.1 489.0 77.9 488.4 78.8 487.7 79.6 487.1 80.4 486.4 81.3 485.7 82.1 485.1 82.9 484.4 83.7 483.7 84.5 483.1 85.3 482.4 86.2 481.8 87.0 481.2 87.9 480.6 88.7 480.1 89.7 479.6 90.6 479.1 91.5 478.7 92.5 478.3 93.5 477.9 94.5 477.6 95.4 477.2 96.4 476.9 97.4 476.5 98.4 476.1 99.4 475.7 100.4 475.3 101.3 474.8 102.3 474.3 103.2 473.7 104.1 473.0 104.9 472.3 105.7 471.6 106.4 470.7 107.0 469.8 107.6 468.9 108.1Z" stroke="#ff0000"/>
<path d="M450.0 127.5 451.6 127.1 453.2 126.8 454.8 126.4 456.4 126.0 458.0 125.6 459.6 125.2 461.2 124.8 462.8 124.4 464.4 124.0 466.0 123.6 467.6 123.1 469.1 122.7 470.7 122.2 472.3 121.7 473.8 121.2 475.4 120.7 477.0 120.2 478.5 119.7 480.0 119.1 481.6 118.5 483.1 117.9 484.6 117.2 486.1 116.6 487.6 115.9 489.1 115.1 490.5 114.4 492.0 113.6 493.4 112.8 494.8 111.9 496.2 111.0 497.5 110.1 498.8 109.2 500.1 108.2 501.4 107.1 502.7 106.1 503.9 105.0 505.1 103.9 506.2 102.7 507.4 101.5 508.5 100.3 509.5 99.0 510.6 97.8 511.6 96.5 512.6 95.2 513.5 93.8 514.5 92.5 515.4 91.1 516.2 89.7 517.1 88.3 517.9 86.9 518.7 85.5 519.5 84.0 520.3 82.6 521.0 81.1 521.8 79.7 522.5 78.2 523.2 76.7 523.9 75.2 524.6 73.7 525.3 72.2 525.9 70.7 526.6 69.2 527.2 67.7 527.9 66.2 528.5 64.7 529.1 63.2 529.7 61.7 530.4 60.2 531.0 58.6 531.6 57.1 532.2 55.6 532.9 54.1 533.5 52.6 534.1 51.1 534.8 49.5 535.4 48.0 536.1 46.5 536.8 45.0 537.4 43.6 538.2 42.1 538.9 40.6 539.6 39.1 540.4 37.7 541.2 36.3 542.1 34.9 542.9 33.5 543.9 32.1 544.8 30.8 545.9 29.5 547.0 28.3 548.1 27.1 549.3 26.0 550.6 25.0 551.9 24.0 553.3 23.1 554.7 22.3 556.2 21.6 557.7 21.0 559.2 20.4 557.6 20.5 556.0 20.8 554.4 21.0 552.8 21.3 551.2 21.6 549.6 21.9 548.0 22.3 546.4 22.7 544.9 23.1 543.3 23.5 541.7 24.0 540.2 24.4 538.6 24.9 537.0 25.4 535.5 25.9 534.0 26.4 532.4 26.9 530.9 27.5 529.3 28.0 527.8 28.5 526.3 29.1 524.8 29.7 523.2 30.3 521.8 31.0 520.3 31.6 518.8 32.4 517.4 33.1 516.0 33.9 514.6 34.8 513.3 35.8 512.0 36.8 510.7 37.8 509.5 38.9 508.4 40.1 507.3 41.3 506.2 42.5 505.2 43.7 504.2 45.0 503.2 46.3 502.2 47.6 501.3 49.0 500.4 50.3 499.5 51.7 498.7 53.1 497.8 54.5 497.0 55.9 496.2 57.3 495.4 58.7 494.6 60.1 493.8 61.5 493.0 63.0 492.2 64.4 491.4 65.8 490.7 67.3 489.9 68.7 489.1 70.1 488.4 71.6 487.6 73.0 486.8 74.5 486.1 75.9 485.3 77.3 484.5 78.7 483.7 80.2 482.9 81.6 482.1 83.0 481.3 84.4 480.5 85.8 479.6 87.2 478.8 88.6 477.9 90.0 477.0 91.3 476.1 92.7 475.2 94.1 474.4 95.5 473.6 96.9 472.7 98.3 471.9 99.7 471.1 101.1 470.3 102.5 469.6 103.9 468.8 105.4 467.9 106.8 467.1 108.2 466.3 109.6 465.5 111.0 464.6 112.3 463.7 113.7 462.8 115.0 461.8 116.4 460.8 117.7 459.8 118.9 458.7 120.2 457.6 121.3 456.5 122.5 455.3 123.6 454.0 124.7 452.7 125.7 451.4 126.6 450.0 127.5Z" stroke="#0000ff"/>
<path d="M432.8 143.5 434.9 143.1 437.0 142.7 439.1 142.2 441.1 141.6 443.2 141.1 445.3 140.5 447.3 139.8 449.3 139.1 451.3 138.4 453.4 137.7 455.4 136.9 457.4 136.1 459.3 135.3 461.3 134.5 463.3 133.6 465.3 132.8 467.2 131.9 469.2 131.1 471.2 130.2 473.1 129.3 475.1 128.5 477.0 127.6 479.0 126.7 481.0 125.9 482.9 125.0 484.9 124.1 486.8 123.3 488.8 122.4 490.7 121.5 492.7 120.5 494.6 119.6 496.5 118.5 498.3 117.4 500.1 116.3 501.9 115.1 503.6 113.7 505.2 112.3 506.7 110.8 508.2 109.3 509.5 107.6 510.8 105.9 512.1 104.1 513.2 102.3 514.3 100.5 515.4 98.6 516.4 96.8 517.4 94.9 518.4 92.9 519.3 91.0 520.2 89.1 521.1 87.1 521.9 85.1 522.8 83.2 523.6 81.2 524.5 79.2 525.3 77.2 526.1 75.3 526.9 73.3 527.7 71.3 528.5 69.3 529.4 67.3 530.2 65.3 531.0 63.4 531.9 61.4 532.7 59.4 533.6 57.5 534.5 55.5 535.4 53.6 536.3 51.6 537.3 49.7 538.2 47.8 539.2 45.9 540.3 44.0 541.3 42.2 542.4 40.3 543.5 38.5 544.7 36.7 545.9 34.9 547.1 33.1 548.4 31.4 549.6 29.7 551.0 28.0 552.3 26.3 553.7 24.7 555.1 23.0 556.5 21.4 558.0 19.9 559.4 18.3 560.9 16.8 562.5 15.3 564.0 13.8 565.6 12.3 567.2 10.9 568.7 9.4 570.4 8.0 572.0 6.6 573.6 5.2 575.2 3.8 576.9 2.4 574.8 2.8 572.6 3.2 570.5 3.6 568.4 4.1 566.3 4.6 564.3 5.1 562.2 5.6 560.1 6.2 558.0 6.8 556.0 7.4 553.9 8.0 551.8 8.6 549.8 9.3 547.7 9.9 545.7 10.6 543.6 11.3 541.6 12.0 539.6 12.7 537.5 13.4 535.5 14.1 533.5 14.8 531.5 15.6 529.5 16.4 527.5 17.1 525.5 17.9 523.5 18.8 521.5 19.7 519.6 20.6 517.7 21.7 515.9 22.7 514.0 23.9 512.3 25.2 510.6 26.5 509.0 27.9 507.5 29.4 506.0 31.0 504.6 32.6 503.3 34.3 502.0 36.1 500.8 37.8 499.6 39.6 498.5 41.5 497.4 43.3 496.4 45.2 495.3 47.1 494.3 49.0 493.4 50.9 492.4 52.9 491.5 54.8 490.6 56.7 489.7 58.7 488.8 60.7 487.9 62.6 487.0 64.6 486.1 66.6 485.3 68.5 484.4 70.5 483.5 72.5 482.7 74.4 481.8 76.4 480.9 78.4 480.0 80.3 479.1 82.3 478.2 84.2 477.3 86.2 476.3 88.1 475.4 90.0 474.4 91.9 473.4 93.8 472.3 95.7 471.3 97.6 470.2 99.4 469.1 101.3 468.0 103.1 466.8 104.9 465.7 106.7 464.5 108.5 463.2 110.3 462.0 112.1 460.7 113.8 459.4 115.5 458.1 117.2 456.8 118.9 455.4 120.6 454.0 122.2 452.6 123.9 451.2 125.5 449.8 127.1 448.3 128.6 446.8 130.2 445.3 131.7 443.8 133.3 442.3 134.8 440.7 136.3 439.2 137.7 437.6 139.2 436.0 140.6 434.4 142.1 432.8 143.5Z" stroke="#ff00ff"/>
</g>
<rect x="431.6" y="2.6" width="59.599999999999966" height="43.4" fill="#fff" stroke="#808080" stroke-width="0.9"/>
<line x1="432.2" x2="452.9" y1="8.4" y2="8.4" stroke="#000000" stroke-width="1.3"/>
<text x="455.00" y="11.94" font-size="8.9" text-anchor="start" >10 kV/cm</text>
<line x1="432.2" x2="452.9" y1="19.0" y2="19.0" stroke="#ff0000" stroke-width="1.3"/>
<text x="455.00" y="22.54" font-size="8.9" text-anchor="start" >20 kV/cm</text>
<line x1="432.2" x2="452.9" y1="29.6" y2="29.6" stroke="#0000ff" stroke-width="1.3"/>
<text x="455.00" y="33.14" font-size="8.9" text-anchor="start" >30 kV/cm</text>
<line x1="432.2" x2="452.9" y1="40.199999999999996" y2="40.199999999999996" stroke="#ff00ff" stroke-width="1.3"/>
<text x="455.00" y="43.74" font-size="8.9" text-anchor="start" >40 kV/cm</text>
<rect x="428.3" y="1.7" width="151.90000000000003" height="144.0" fill="none" stroke="#2a2a2a" stroke-width="1.3"/>
<path d="M433.64 145.7 v-4 M468.92 145.7 v-4 M504.20 145.7 v-4 M539.48 145.7 v-4 M574.76 145.7 v-4 M451.28 145.7 v-2.3 M486.56 145.7 v-2.3 M521.84 145.7 v-2.3 M557.12 145.7 v-2.3 M428.3 37.30 h4 M428.3 73.70 h4 M428.3 110.10 h4 M428.3 146.50 h4 M428.3 19.10 h2.3 M428.3 55.50 h2.3 M428.3 91.90 h2.3 M428.3 128.30 h2.3" stroke="#111" stroke-width="1.1" fill="none"/>
<text x="433.64" y="157.50" font-size="10.3" text-anchor="middle" >-40</text>
<text x="468.92" y="157.50" font-size="10.3" text-anchor="middle" >-20</text>
<text x="504.20" y="157.50" font-size="10.3" text-anchor="middle" >0</text>
<text x="539.48" y="157.50" font-size="10.3" text-anchor="middle" >20</text>
<text x="574.76" y="157.50" font-size="10.3" text-anchor="middle" >40</text>
<text x="424.00" y="40.80" font-size="10.3" text-anchor="end" >4</text>
<text x="424.00" y="77.20" font-size="10.3" text-anchor="end" >0</text>
<text x="424.00" y="113.60" font-size="10.3" text-anchor="end" >-4</text>
<text x="424.00" y="150.00" font-size="10.3" text-anchor="end" >-8</text>
<text x="399.3" y="18.8" font-size="22.4">e<tspan font-size="13.5" dy="7.3">3</tspan></text>
<text x="493.00" y="12.00" font-size="12.2" text-anchor="start" >x = 0.045</text>
<text x="531.40" y="123.60" font-size="8.9" text-anchor="start" >T = 413 K,</text>
<text x="531.40" y="134.10" font-size="8.9" text-anchor="start" >f = 50 Hz</text>
<clipPath id="ce4"><rect x="611.5" y="1.6" width="146.60000000000002" height="144.20000000000002"/></clipPath>
<g clip-path="url(#ce4)" fill="none" stroke-width="1.2" stroke-linejoin="round">
<path d="M666.8 81.5 667.2 81.4 667.6 81.3 668.0 81.2 668.4 81.0 668.8 80.9 669.2 80.8 669.6 80.7 670.0 80.5 670.4 80.4 670.8 80.3 671.2 80.1 671.6 80.0 671.9 79.8 672.3 79.7 672.7 79.6 673.1 79.4 673.5 79.3 673.9 79.1 674.3 79.0 674.7 78.8 675.1 78.7 675.4 78.6 675.8 78.4 676.2 78.2 676.6 78.1 677.0 77.9 677.4 77.8 677.8 77.6 678.1 77.5 678.5 77.3 678.9 77.1 679.3 77.0 679.7 76.8 680.0 76.6 680.4 76.5 680.8 76.3 681.2 76.1 681.5 75.9 681.9 75.8 682.3 75.6 682.7 75.4 683.0 75.2 683.4 75.0 683.8 74.9 684.2 74.7 684.5 74.5 684.9 74.3 685.3 74.1 685.6 73.9 686.0 73.7 686.4 73.5 686.7 73.3 687.1 73.1 687.4 72.9 687.8 72.7 688.2 72.5 688.5 72.3 688.9 72.1 689.2 71.9 689.6 71.7 690.0 71.4 690.3 71.2 690.7 71.0 691.0 70.8 691.4 70.6 691.7 70.3 692.1 70.1 692.4 69.9 692.7 69.7 693.1 69.4 693.4 69.2 693.8 69.0 694.1 68.7 694.5 68.5 694.8 68.3 695.1 68.0 695.5 67.8 695.8 67.5 696.1 67.3 696.5 67.0 696.8 66.8 697.1 66.5 697.5 66.3 697.8 66.0 698.1 65.8 698.4 65.5 698.8 65.2 699.1 65.0 699.4 64.7 699.7 64.5 700.0 64.2 700.4 63.9 700.7 63.6 701.0 63.4 701.3 63.1 701.6 62.8 701.9 62.6 702.2 62.3 702.5 62.0 702.1 62.1 701.7 62.2 701.3 62.4 700.9 62.5 700.5 62.6 700.2 62.8 699.8 62.9 699.4 63.0 699.0 63.1 698.6 63.3 698.2 63.4 697.8 63.5 697.4 63.7 697.0 63.8 696.6 64.0 696.2 64.1 695.8 64.2 695.4 64.4 695.1 64.5 694.7 64.7 694.3 64.8 693.9 65.0 693.5 65.1 693.1 65.3 692.7 65.4 692.3 65.6 692.0 65.7 691.6 65.9 691.2 66.0 690.8 66.2 690.4 66.4 690.0 66.5 689.7 66.7 689.3 66.8 688.9 67.0 688.5 67.2 688.1 67.3 687.8 67.5 687.4 67.7 687.0 67.9 686.6 68.0 686.3 68.2 685.9 68.4 685.5 68.6 685.1 68.8 684.8 68.9 684.4 69.1 684.0 69.3 683.7 69.5 683.3 69.7 682.9 69.9 682.6 70.1 682.2 70.3 681.8 70.5 681.5 70.7 681.1 70.9 680.7 71.1 680.4 71.3 680.0 71.5 679.7 71.7 679.3 71.9 678.9 72.2 678.6 72.4 678.2 72.6 677.9 72.8 677.5 73.0 677.2 73.3 676.8 73.5 676.5 73.7 676.2 73.9 675.8 74.2 675.5 74.4 675.1 74.7 674.8 74.9 674.5 75.1 674.1 75.4 673.8 75.6 673.4 75.9 673.1 76.1 672.8 76.4 672.5 76.6 672.1 76.9 671.8 77.1 671.5 77.4 671.2 77.7 670.8 77.9 670.5 78.2 670.2 78.5 669.9 78.7 669.6 79.0 669.3 79.3 668.9 79.5 668.6 79.8 668.3 80.1 668.0 80.4 667.7 80.7 667.4 81.0 667.1 81.2 666.8 81.5Z" stroke="#000000"/>
<path d="M649.3 98.4 650.2 98.0 651.0 97.6 651.9 97.2 652.7 96.8 653.5 96.4 654.4 96.1 655.2 95.7 656.1 95.3 656.9 94.9 657.8 94.5 658.6 94.1 659.4 93.7 660.3 93.3 661.1 93.0 662.0 92.6 662.8 92.2 663.7 91.8 664.5 91.4 665.3 91.0 666.2 90.6 667.0 90.2 667.9 89.9 668.7 89.5 669.6 89.1 670.4 88.7 671.3 88.3 672.1 87.9 672.9 87.5 673.8 87.1 674.6 86.8 675.5 86.4 676.3 86.0 677.2 85.6 678.0 85.2 678.8 84.8 679.7 84.4 680.5 84.0 681.4 83.7 682.2 83.3 683.1 82.9 683.9 82.5 684.8 82.1 685.6 81.7 686.4 81.3 687.3 80.9 688.1 80.6 689.0 80.2 689.8 79.8 690.7 79.4 691.5 79.0 692.3 78.6 693.2 78.2 694.0 77.8 694.8 77.2 695.5 76.6 696.0 75.9 696.5 75.1 697.0 74.3 697.4 73.5 697.8 72.6 698.2 71.8 698.6 70.9 699.0 70.1 699.4 69.3 699.8 68.4 700.2 67.6 700.6 66.8 701.1 66.0 701.5 65.2 702.0 64.4 702.5 63.6 703.0 62.8 703.5 62.0 704.0 61.3 704.6 60.5 705.1 59.8 705.7 59.0 706.3 58.3 706.9 57.6 707.5 56.9 708.1 56.2 708.8 55.5 709.4 54.9 710.1 54.2 710.8 53.6 711.5 53.0 712.2 52.4 712.9 51.8 713.6 51.2 714.3 50.6 715.1 50.1 715.8 49.5 716.6 49.0 717.3 48.5 718.1 47.9 718.9 47.4 719.7 46.9 720.5 46.4 721.2 46.0 720.4 46.2 719.5 46.4 718.6 46.7 717.7 46.9 716.8 47.2 715.9 47.5 715.0 47.7 714.2 48.0 713.3 48.3 712.4 48.6 711.5 48.9 710.7 49.2 709.8 49.5 708.9 49.8 708.0 50.1 707.2 50.4 706.3 50.7 705.4 51.1 704.6 51.4 703.7 51.7 702.9 52.1 702.0 52.4 701.2 52.8 700.3 53.2 699.5 53.6 698.6 53.9 697.8 54.3 697.0 54.7 696.1 55.1 695.3 55.5 694.5 55.9 693.7 56.4 692.9 56.8 692.0 57.2 691.2 57.7 690.4 58.1 689.6 58.6 688.8 59.0 688.0 59.5 687.2 60.0 686.5 60.5 685.7 61.0 684.9 61.4 684.1 62.0 683.3 62.5 682.6 63.0 681.8 63.5 681.1 64.0 680.3 64.6 679.6 65.1 678.8 65.7 678.1 66.2 677.4 66.8 676.6 67.4 675.9 67.9 675.2 68.5 674.5 69.1 673.8 69.7 673.1 70.3 672.4 70.9 671.7 71.5 671.0 72.1 670.3 72.8 669.7 73.4 669.0 74.0 668.3 74.7 667.7 75.3 667.0 76.0 666.4 76.6 665.7 77.3 665.1 78.0 664.5 78.6 663.8 79.3 663.2 80.0 662.6 80.7 662.0 81.4 661.4 82.1 660.8 82.8 660.2 83.5 659.6 84.2 659.0 84.9 658.4 85.6 657.9 86.4 657.3 87.1 656.7 87.8 656.2 88.5 655.6 89.3 655.1 90.0 654.5 90.8 654.0 91.5 653.4 92.3 652.9 93.0 652.4 93.8 651.9 94.5 651.4 95.3 650.8 96.1 650.3 96.8 649.8 97.6 649.3 98.4Z" stroke="#ff0000"/>
<path d="M632.5 120.2 634.0 120.0 635.4 119.7 636.9 119.3 638.3 119.0 639.7 118.5 641.1 118.1 642.5 117.6 643.9 117.1 645.3 116.5 646.6 115.9 648.0 115.3 649.3 114.7 650.6 114.0 651.9 113.3 653.2 112.6 654.5 111.9 655.7 111.1 657.0 110.3 658.3 109.6 659.5 108.7 660.7 107.9 661.9 107.1 663.2 106.3 664.4 105.4 665.6 104.5 666.7 103.7 667.9 102.8 669.1 101.9 670.3 101.0 671.5 100.1 672.6 99.2 673.8 98.3 674.9 97.4 676.1 96.4 677.2 95.5 678.3 94.5 679.5 93.6 680.6 92.6 681.7 91.6 682.7 90.6 683.8 89.6 684.9 88.5 685.9 87.5 686.9 86.4 688.0 85.4 689.0 84.3 689.9 83.2 690.9 82.1 691.9 81.0 692.8 79.8 693.7 78.7 694.6 77.5 695.5 76.3 696.4 75.1 697.3 74.0 698.2 72.8 699.0 71.5 699.8 70.3 700.7 69.1 701.5 67.9 702.3 66.6 703.1 65.4 703.9 64.1 704.7 62.9 705.4 61.6 706.2 60.4 707.0 59.1 707.7 57.9 708.5 56.6 709.3 55.3 710.0 54.1 710.8 52.8 711.6 51.6 712.4 50.3 713.1 49.1 713.9 47.8 714.7 46.6 715.6 45.3 716.4 44.1 717.2 42.9 718.1 41.7 719.0 40.5 719.9 39.4 720.8 38.2 721.8 37.1 722.8 36.0 723.8 34.9 724.9 33.9 726.0 32.9 727.1 32.0 728.3 31.1 729.5 30.2 730.7 29.4 731.9 28.6 733.2 27.9 734.5 27.2 735.9 26.6 737.2 26.0 738.6 25.4 737.2 25.9 735.8 26.3 734.4 26.8 733.0 27.4 731.6 27.9 730.2 28.4 728.9 28.9 727.5 29.5 726.1 30.1 724.8 30.7 723.4 31.2 722.1 31.8 720.7 32.5 719.4 33.1 718.1 33.7 716.7 34.4 715.4 35.1 714.1 35.8 712.8 36.5 711.5 37.2 710.2 37.9 709.0 38.6 707.7 39.4 706.4 40.2 705.1 40.9 703.9 41.6 702.6 42.4 701.3 43.1 700.0 43.8 698.7 44.5 697.4 45.2 696.1 46.0 694.8 46.7 693.5 47.4 692.2 48.1 691.0 48.9 689.7 49.6 688.4 50.4 687.2 51.2 686.0 52.0 684.7 52.8 683.5 53.7 682.4 54.6 681.2 55.5 680.1 56.5 679.0 57.4 677.9 58.4 676.8 59.4 675.7 60.5 674.7 61.6 673.7 62.6 672.8 63.8 671.8 64.9 670.9 66.0 669.9 67.2 669.1 68.4 668.2 69.6 667.3 70.7 666.5 72.0 665.6 73.2 664.8 74.4 664.0 75.6 663.2 76.9 662.4 78.1 661.6 79.4 660.8 80.6 660.0 81.9 659.2 83.1 658.5 84.4 657.7 85.6 656.9 86.9 656.2 88.2 655.4 89.4 654.6 90.7 653.8 91.9 653.0 93.2 652.3 94.5 651.5 95.7 650.7 96.9 649.9 98.2 649.1 99.4 648.2 100.6 647.4 101.9 646.6 103.1 645.7 104.3 644.9 105.5 644.0 106.7 643.1 107.9 642.2 109.1 641.3 110.2 640.4 111.4 639.5 112.5 638.5 113.7 637.6 114.8 636.6 115.9 635.6 117.0 634.6 118.1 633.6 119.1 632.5 120.2Z" stroke="#0000ff"/>
<path d="M614.2 144.1 616.0 143.3 617.9 142.4 619.8 141.5 621.7 140.6 623.5 139.6 625.4 138.7 627.2 137.8 629.1 136.8 630.9 135.9 632.8 134.9 634.6 134.0 636.5 133.0 638.3 132.0 640.1 130.9 641.9 129.9 643.7 128.9 645.5 127.8 647.3 126.7 649.0 125.6 650.8 124.5 652.5 123.4 654.3 122.2 656.0 121.1 657.7 119.9 659.4 118.7 661.0 117.4 662.7 116.2 664.3 114.9 666.0 113.6 667.6 112.3 669.1 110.9 670.7 109.5 672.3 108.2 673.8 106.7 675.3 105.3 676.8 103.8 678.2 102.4 679.7 100.9 681.1 99.3 682.5 97.8 683.8 96.2 685.2 94.6 686.5 93.0 687.8 91.4 689.1 89.8 690.3 88.1 691.6 86.4 692.8 84.8 694.0 83.1 695.2 81.3 696.3 79.6 697.5 77.9 698.6 76.1 699.7 74.4 700.8 72.6 701.9 70.8 702.9 69.0 704.0 67.2 705.0 65.4 706.1 63.6 707.1 61.8 708.1 60.0 709.1 58.2 710.1 56.4 711.1 54.6 712.1 52.7 713.1 50.9 714.1 49.1 715.1 47.3 716.2 45.5 717.2 43.7 718.2 41.8 719.2 40.0 720.3 38.2 721.3 36.5 722.4 34.7 723.5 32.9 724.7 31.2 725.8 29.4 727.0 27.7 728.2 26.0 729.4 24.4 730.7 22.7 732.0 21.1 733.4 19.5 734.7 18.0 736.2 16.5 737.7 15.0 739.2 13.6 740.8 12.2 742.4 10.9 744.0 9.7 745.7 8.5 747.4 7.3 749.2 6.2 751.0 5.1 752.8 4.0 754.6 3.0 756.4 2.1 754.6 3.0 752.8 4.0 750.9 5.0 749.1 6.0 747.3 7.0 745.4 8.0 743.6 8.9 741.8 9.9 739.9 10.9 738.1 11.9 736.3 12.9 734.5 14.0 732.7 15.0 730.9 16.0 729.0 17.0 727.2 18.1 725.4 19.1 723.7 20.2 721.9 21.2 720.1 22.3 718.3 23.4 716.5 24.4 714.8 25.5 713.0 26.7 711.2 27.8 709.5 28.9 707.8 30.1 706.1 31.2 704.3 32.4 702.6 33.6 701.0 34.8 699.3 36.1 697.6 37.3 696.0 38.6 694.4 39.9 692.8 41.2 691.2 42.6 689.6 43.9 688.1 45.3 686.5 46.8 685.0 48.2 683.6 49.7 682.1 51.1 680.7 52.7 679.3 54.2 677.9 55.8 676.6 57.4 675.3 59.0 674.0 60.6 672.7 62.2 671.5 63.9 670.2 65.6 669.0 67.3 667.9 69.0 666.7 70.8 665.6 72.5 664.5 74.3 663.4 76.1 662.4 77.8 661.3 79.6 660.3 81.5 659.3 83.3 658.3 85.1 657.3 86.9 656.3 88.8 655.3 90.6 654.4 92.4 653.4 94.3 652.5 96.1 651.5 98.0 650.5 99.8 649.6 101.7 648.6 103.5 647.6 105.3 646.7 107.2 645.7 109.0 644.7 110.8 643.6 112.6 642.6 114.4 641.5 116.2 640.4 118.0 639.3 119.7 638.1 121.5 636.9 123.2 635.7 124.8 634.4 126.5 633.1 128.1 631.8 129.7 630.4 131.2 628.9 132.7 627.4 134.1 625.9 135.5 624.3 136.9 622.7 138.2 621.0 139.5 619.3 140.7 617.6 141.9 615.9 143.0 614.2 144.1Z" stroke="#ff00ff"/>
</g>
<rect x="616.3" y="1.9" width="58.90000000000009" height="42.7" fill="#fff" stroke="#808080" stroke-width="0.9"/>
<line x1="617" x2="637.3" y1="8.4" y2="8.4" stroke="#000000" stroke-width="1.3"/>
<text x="639.80" y="11.86" font-size="8.66" text-anchor="start" >10 kV/cm</text>
<line x1="617" x2="637.3" y1="18.6" y2="18.6" stroke="#ff0000" stroke-width="1.3"/>
<text x="639.80" y="22.06" font-size="8.66" text-anchor="start" >20 kV/cm</text>
<line x1="617" x2="637.3" y1="28.799999999999997" y2="28.799999999999997" stroke="#0000ff" stroke-width="1.3"/>
<text x="639.80" y="32.26" font-size="8.66" text-anchor="start" >30 kV/cm</text>
<line x1="617" x2="637.3" y1="39.0" y2="39.0" stroke="#ff00ff" stroke-width="1.3"/>
<text x="639.80" y="42.46" font-size="8.66" text-anchor="start" >40 kV/cm</text>
<rect x="611.5" y="1.6" width="146.60000000000002" height="144.20000000000002" fill="none" stroke="#2a2a2a" stroke-width="1.3"/>
<path d="M615.20 145.8 v-4 M650.20 145.8 v-4 M685.20 145.8 v-4 M720.20 145.8 v-4 M755.20 145.8 v-4 M632.70 145.8 v-2.3 M667.70 145.8 v-2.3 M702.70 145.8 v-2.3 M737.70 145.8 v-2.3 M611.5 4.80 h4 M611.5 72.30 h4 M611.5 139.80 h4 M611.5 38.55 h2.3 M611.5 106.05 h2.3" stroke="#111" stroke-width="1.1" fill="none"/>
<text x="615.20" y="157.60" font-size="10.3" text-anchor="middle" >-40</text>
<text x="650.20" y="157.60" font-size="10.3" text-anchor="middle" >-20</text>
<text x="685.20" y="157.60" font-size="10.3" text-anchor="middle" >0</text>
<text x="720.20" y="157.60" font-size="10.3" text-anchor="middle" >20</text>
<text x="755.20" y="157.60" font-size="10.3" text-anchor="middle" >40</text>
<text x="607.20" y="8.30" font-size="10.3" text-anchor="end" >10</text>
<text x="607.20" y="75.80" font-size="10.3" text-anchor="end" >0</text>
<text x="607.20" y="143.30" font-size="10.3" text-anchor="end" >-10</text>
<text x="586.9" y="17.6" font-size="22.4">e<tspan font-size="13.5" dy="7.3">4</tspan></text>
<text x="680.50" y="12.20" font-size="12.2" text-anchor="start" >x = 0.06</text>
<text x="716.70" y="125.50" font-size="7.5" text-anchor="start" >T= 313 K,</text>
<text x="716.70" y="135.80" font-size="7.5" text-anchor="start" >f = 50 Hz</text>
<clipPath id="ct1"><rect x="44.5" y="173.6" width="141.4" height="139.79999999999998"/></clipPath>
<g clip-path="url(#ct1)" fill="none" stroke-width="1.2" stroke-linejoin="round">
<path d="M47.5 309.6 49.7 309.1 51.8 308.7 54.0 308.3 56.1 308.0 58.3 307.6 60.5 307.3 62.6 307.0 64.8 306.8 67.0 306.5 69.1 306.2 71.3 306.0 73.5 305.7 75.7 305.4 77.8 305.1 80.0 304.8 82.1 304.4 84.3 304.0 86.4 303.6 88.6 303.1 90.7 302.6 92.8 302.0 94.9 301.4 97.0 300.7 99.1 300.0 101.1 299.2 103.1 298.4 105.2 297.6 107.2 296.7 109.2 295.9 111.2 295.0 113.2 294.2 115.3 293.4 117.3 292.6 119.3 291.7 121.0 290.4 122.3 288.6 123.3 286.7 124.2 284.7 125.0 282.6 125.7 280.6 126.3 278.5 126.9 276.3 127.5 274.2 127.9 272.1 128.4 270.0 128.8 267.8 129.2 265.7 129.6 263.5 129.9 261.3 130.2 259.2 130.5 257.0 130.8 254.8 131.1 252.7 131.3 250.5 131.6 248.3 131.9 246.1 132.2 244.0 132.5 241.8 132.9 239.7 133.4 237.5 133.9 235.4 134.4 233.3 134.9 231.2 135.5 229.0 136.1 226.9 136.8 224.8 137.4 222.8 138.1 220.7 138.8 218.6 139.5 216.5 140.2 214.5 141.0 212.4 141.8 210.4 142.6 208.4 143.5 206.4 144.4 204.4 145.4 202.4 146.5 200.5 147.6 198.6 148.8 196.8 150.1 195.0 151.4 193.3 152.9 191.7 154.4 190.1 156.0 188.6 157.7 187.3 159.5 186.0 161.3 184.8 163.2 183.7 165.2 182.7 167.1 181.7 169.1 180.8 171.2 180.0 173.2 179.2 175.2 178.4 177.3 177.6 179.3 176.8 181.3 176.0 183.4 175.2 181.2 175.6 179.0 176.0 176.9 176.4 174.7 176.8 172.5 177.2 170.4 177.7 168.2 178.1 166.0 178.5 163.9 179.0 161.7 179.4 159.6 179.9 157.4 180.4 155.3 180.8 153.1 181.3 151.0 181.8 148.8 182.3 146.6 182.8 144.5 183.3 142.3 183.8 140.2 184.3 138.1 184.8 135.9 185.3 133.8 185.8 131.6 186.3 129.5 186.8 127.3 187.3 125.2 187.8 123.0 188.4 120.9 188.9 118.7 189.4 116.6 190.0 114.5 190.7 112.5 191.5 110.6 192.7 109.1 194.3 108.0 196.2 107.1 198.2 106.3 200.3 105.7 202.4 105.2 204.6 104.7 206.7 104.3 208.9 103.8 211.0 103.4 213.2 103.1 215.4 102.7 217.6 102.3 219.7 102.0 221.9 101.6 224.1 101.3 226.3 100.9 228.4 100.5 230.6 100.2 232.8 99.8 235.0 99.4 237.2 99.1 239.3 98.7 241.5 98.3 243.7 97.9 245.8 97.4 248.0 97.0 250.2 96.5 252.3 96.1 254.5 95.6 256.6 95.1 258.8 94.5 260.9 94.0 263.0 93.4 265.2 92.8 267.3 92.2 269.4 91.5 271.5 90.8 273.6 90.0 275.7 89.2 277.7 88.4 279.8 87.5 281.8 86.5 283.7 85.4 285.7 84.3 287.6 83.1 289.4 81.8 291.2 80.4 293.0 79.0 294.6 77.4 296.1 75.7 297.6 74.0 298.9 72.2 300.2 70.3 301.3 68.3 302.4 66.4 303.3 64.3 304.2 62.3 305.0 60.2 305.8 58.1 306.5 56.0 307.2 53.9 307.8 51.8 308.4 49.7 309.0 47.5 309.6Z" stroke="#000000"/>
<path d="M47.5 299.8 49.6 299.7 51.6 299.7 53.6 299.6 55.6 299.5 57.6 299.3 59.6 299.2 61.7 299.0 63.7 298.8 65.7 298.5 67.7 298.3 69.7 298.0 71.7 297.8 73.7 297.5 75.7 297.1 77.7 296.8 79.7 296.5 81.7 296.1 83.6 295.7 85.6 295.3 87.6 294.9 89.6 294.5 91.6 294.0 93.5 293.6 95.5 293.1 97.5 292.6 99.4 292.2 101.4 291.7 103.3 291.2 105.3 290.6 107.2 290.1 109.2 289.6 111.2 289.1 113.1 288.6 115.1 288.2 117.1 287.7 119.0 287.1 120.7 286.0 121.9 284.4 122.8 282.6 123.6 280.7 124.3 278.8 124.9 276.9 125.5 275.0 126.0 273.0 126.5 271.1 127.0 269.1 127.4 267.1 127.9 265.2 128.3 263.2 128.8 261.2 129.2 259.2 129.7 257.3 130.2 255.3 130.7 253.4 131.2 251.4 131.7 249.5 132.3 247.5 132.9 245.6 133.5 243.7 134.2 241.8 134.8 239.9 135.5 238.0 136.3 236.1 137.0 234.2 137.8 232.3 138.6 230.5 139.4 228.6 140.3 226.8 141.2 225.0 142.1 223.2 143.0 221.4 144.0 219.6 145.0 217.9 146.1 216.2 147.2 214.4 148.3 212.8 149.4 211.1 150.6 209.5 151.9 207.9 153.1 206.3 154.4 204.8 155.8 203.3 157.2 201.8 158.6 200.4 160.1 199.0 161.6 197.6 163.2 196.4 164.7 195.1 166.4 193.9 168.0 192.7 169.7 191.6 171.4 190.5 173.1 189.5 174.9 188.5 176.7 187.5 178.4 186.6 180.2 185.6 182.1 184.7 183.9 183.9 181.8 184.2 179.8 184.5 177.7 184.8 175.7 185.1 173.7 185.4 171.6 185.7 169.6 186.0 167.5 186.3 165.5 186.6 163.4 186.9 161.4 187.2 159.4 187.5 157.3 187.8 155.3 188.1 153.2 188.4 151.2 188.8 149.2 189.1 147.1 189.4 145.1 189.7 143.0 190.0 141.0 190.3 139.0 190.7 136.9 191.0 134.9 191.3 132.8 191.6 130.8 192.0 128.8 192.3 126.7 192.6 124.7 192.9 122.6 193.3 120.6 193.7 118.6 194.1 116.6 194.6 114.6 195.2 112.7 196.1 111.1 197.3 109.6 198.7 108.4 200.4 107.5 202.2 106.6 204.1 105.9 206.1 105.2 208.0 104.7 210.0 104.1 212.0 103.6 214.0 103.1 216.0 102.6 218.0 102.2 220.0 101.7 222.0 101.3 224.1 100.9 226.1 100.4 228.1 100.0 230.1 99.6 232.1 99.1 234.2 98.7 236.2 98.3 238.2 97.8 240.2 97.3 242.2 96.9 244.2 96.4 246.2 95.9 248.2 95.4 250.2 94.8 252.2 94.3 254.2 93.7 256.2 93.1 258.2 92.5 260.2 91.8 262.1 91.1 264.1 90.4 266.0 89.7 267.9 88.8 269.8 88.0 271.7 87.1 273.6 86.1 275.4 85.1 277.2 84.0 278.9 82.9 280.7 81.6 282.3 80.3 283.9 78.9 285.4 77.5 286.9 75.9 288.3 74.3 289.6 72.6 290.8 70.9 291.9 69.1 292.9 67.3 293.8 65.4 294.7 63.5 295.4 61.5 296.1 59.6 296.8 57.6 297.4 55.6 297.9 53.6 298.4 51.6 298.9 49.6 299.4 47.5 299.8Z" stroke="#ff0000"/>
<path d="M47.5 295.1 49.4 295.0 51.3 294.9 53.2 294.7 55.1 294.5 57.0 294.3 58.9 294.1 60.8 293.9 62.6 293.6 64.5 293.3 66.4 293.0 68.3 292.7 70.1 292.4 72.0 292.0 73.8 291.7 75.7 291.3 77.6 290.9 79.4 290.5 81.3 290.1 83.1 289.7 85.0 289.3 86.8 288.9 88.7 288.5 90.5 288.1 92.4 287.7 94.2 287.2 96.1 286.8 97.9 286.4 99.8 286.0 101.6 285.6 103.5 285.2 105.3 284.8 107.2 284.3 109.0 283.9 110.8 283.3 112.6 282.7 114.4 282.0 116.1 281.1 117.6 280.0 119.0 278.7 120.2 277.3 121.3 275.7 122.3 274.1 123.2 272.4 124.0 270.7 124.8 269.0 125.6 267.3 126.3 265.5 127.0 263.7 127.7 262.0 128.4 260.2 129.0 258.4 129.7 256.7 130.4 254.9 131.1 253.1 131.7 251.4 132.4 249.6 133.1 247.8 133.8 246.1 134.6 244.3 135.3 242.6 136.0 240.8 136.8 239.1 137.6 237.4 138.4 235.6 139.2 233.9 140.1 232.2 140.9 230.5 141.8 228.9 142.7 227.2 143.7 225.6 144.6 223.9 145.6 222.3 146.6 220.7 147.7 219.1 148.8 217.6 149.9 216.0 151.0 214.5 152.2 213.0 153.4 211.6 154.7 210.1 155.9 208.7 157.2 207.4 158.6 206.0 160.0 204.7 161.4 203.5 162.8 202.2 164.3 201.0 165.8 199.9 167.3 198.8 168.9 197.7 170.5 196.6 172.1 195.6 173.7 194.7 175.4 193.7 177.0 192.8 178.7 192.0 180.4 191.2 182.1 190.3 183.9 189.6 182.0 189.9 180.1 190.3 178.2 190.6 176.3 190.9 174.4 191.3 172.5 191.6 170.6 192.0 168.8 192.4 166.9 192.7 165.0 193.1 163.1 193.4 161.2 193.8 159.3 194.1 157.4 194.5 155.5 194.9 153.6 195.2 151.8 195.6 149.9 196.0 148.0 196.3 146.1 196.7 144.2 197.1 142.3 197.4 140.4 197.8 138.6 198.2 136.7 198.6 134.8 198.9 132.9 199.3 131.0 199.7 129.1 200.1 127.2 200.5 125.4 200.9 123.5 201.3 121.6 201.8 119.8 202.3 117.9 202.8 116.1 203.5 114.4 204.3 112.7 205.2 111.2 206.4 109.8 207.7 108.6 209.2 107.5 210.8 106.5 212.5 105.6 214.2 104.8 215.9 104.1 217.7 103.4 219.5 102.7 221.3 102.1 223.1 101.5 224.9 100.9 226.7 100.3 228.6 99.7 230.4 99.1 232.2 98.6 234.1 98.0 235.9 97.4 237.8 96.9 239.6 96.3 241.4 95.7 243.3 95.1 245.1 94.5 246.9 93.9 248.7 93.3 250.5 92.6 252.4 91.9 254.2 91.2 255.9 90.5 257.7 89.8 259.5 89.0 261.3 88.2 263.0 87.3 264.7 86.5 266.4 85.5 268.1 84.6 269.8 83.5 271.4 82.5 273.0 81.4 274.6 80.2 276.1 78.9 277.6 77.7 279.0 76.3 280.4 74.9 281.7 73.5 282.9 72.0 284.1 70.4 285.3 68.8 286.3 67.2 287.3 65.5 288.3 63.8 289.2 62.0 290.0 60.3 290.8 58.5 291.5 56.7 292.2 54.9 292.8 53.1 293.4 51.2 294.0 49.4 294.6 47.5 295.1Z" stroke="#0000ff"/>
<path d="M47.5 289.6 49.3 289.6 51.1 289.6 52.9 289.5 54.7 289.3 56.5 289.2 58.3 289.0 60.0 288.8 61.8 288.6 63.6 288.3 65.3 288.1 67.1 287.8 68.9 287.4 70.6 287.1 72.4 286.8 74.1 286.4 75.9 286.1 77.6 285.7 79.4 285.3 81.1 284.9 82.9 284.5 84.6 284.1 86.4 283.7 88.1 283.3 89.9 282.9 91.6 282.5 93.3 282.1 95.1 281.7 96.8 281.3 98.6 280.9 100.3 280.5 102.1 280.1 103.8 279.7 105.5 279.2 107.2 278.7 108.9 278.1 110.6 277.4 112.2 276.7 113.8 275.9 115.3 274.9 116.8 273.9 118.2 272.7 119.5 271.5 120.7 270.2 121.9 268.9 123.0 267.5 124.0 266.0 125.0 264.6 126.0 263.1 126.9 261.5 127.9 260.0 128.8 258.4 129.7 256.9 130.5 255.3 131.4 253.8 132.3 252.2 133.2 250.7 134.0 249.1 134.9 247.5 135.8 246.0 136.7 244.4 137.5 242.9 138.4 241.3 139.2 239.7 139.9 238.1 140.7 236.4 141.5 234.8 142.3 233.2 143.1 231.6 143.9 230.0 144.8 228.5 145.7 226.9 146.6 225.4 147.6 223.9 148.7 222.5 149.8 221.1 150.9 219.7 152.1 218.3 153.3 217.0 154.5 215.7 155.8 214.4 157.1 213.2 158.4 212.0 159.8 210.9 161.1 209.7 162.6 208.6 164.0 207.6 165.5 206.5 166.9 205.5 168.4 204.5 169.9 203.6 171.5 202.6 173.0 201.7 174.5 200.8 176.1 199.9 177.6 199.0 179.2 198.2 180.8 197.3 182.3 196.4 183.9 195.5 182.1 195.8 180.3 196.1 178.5 196.4 176.8 196.7 175.0 197.0 173.2 197.3 171.4 197.5 169.6 197.8 167.9 198.1 166.1 198.4 164.3 198.7 162.5 199.0 160.7 199.3 159.0 199.6 157.2 199.9 155.4 200.2 153.6 200.5 151.9 200.8 150.1 201.1 148.3 201.4 146.5 201.7 144.7 202.0 143.0 202.3 141.2 202.6 139.4 202.9 137.6 203.2 135.9 203.6 134.1 203.9 132.3 204.3 130.6 204.7 128.8 205.1 127.1 205.5 125.3 206.0 123.6 206.6 121.9 207.1 120.2 207.8 118.6 208.5 117.0 209.3 115.4 210.2 113.9 211.2 112.5 212.3 111.1 213.5 109.8 214.7 108.6 216.0 107.4 217.4 106.3 218.8 105.3 220.3 104.3 221.8 103.3 223.3 102.4 224.9 101.5 226.5 100.6 228.0 99.8 229.6 99.0 231.3 98.2 232.9 97.4 234.5 96.6 236.1 95.9 237.8 95.1 239.4 94.3 241.0 93.6 242.7 92.8 244.3 92.1 245.9 91.3 247.6 90.5 249.2 89.7 250.8 88.9 252.4 88.1 254.0 87.3 255.6 86.4 257.2 85.6 258.8 84.7 260.4 83.8 261.9 82.8 263.5 81.8 265.0 80.8 266.5 79.8 267.9 78.7 269.4 77.6 270.8 76.4 272.2 75.2 273.5 74.0 274.8 72.7 276.1 71.4 277.3 70.0 278.5 68.6 279.6 67.1 280.6 65.6 281.6 64.1 282.6 62.5 283.5 60.9 284.4 59.3 285.2 57.7 285.9 56.0 286.6 54.4 287.3 52.7 287.9 51.0 288.5 49.3 289.1 47.5 289.6Z" stroke="#ff00ff"/>
<path d="M47.5 285.4 49.2 285.5 51.0 285.5 52.7 285.5 54.4 285.5 56.1 285.4 57.8 285.3 59.5 285.1 61.2 285.0 62.9 284.7 64.6 284.5 66.3 284.3 68.0 284.0 69.7 283.7 71.3 283.4 73.0 283.0 74.7 282.7 76.4 282.3 78.0 281.9 79.7 281.5 81.3 281.1 83.0 280.7 84.7 280.3 86.3 279.9 88.0 279.4 89.6 279.0 91.3 278.5 92.9 278.1 94.6 277.6 96.2 277.1 97.8 276.6 99.5 276.1 101.1 275.6 102.7 275.1 104.4 274.5 106.0 273.9 107.5 273.3 109.1 272.6 110.7 271.9 112.2 271.2 113.7 270.4 115.2 269.5 116.6 268.6 118.1 267.6 119.4 266.6 120.8 265.5 122.1 264.4 123.4 263.3 124.6 262.1 125.8 260.9 127.0 259.7 128.1 258.4 129.2 257.1 130.3 255.8 131.4 254.4 132.4 253.1 133.4 251.7 134.4 250.3 135.4 248.9 136.3 247.5 137.3 246.0 138.2 244.6 139.1 243.2 140.0 241.7 140.9 240.3 141.9 238.8 142.8 237.4 143.7 235.9 144.7 234.5 145.6 233.1 146.6 231.7 147.6 230.3 148.7 229.0 149.7 227.6 150.8 226.3 152.0 225.0 153.1 223.8 154.3 222.5 155.5 221.3 156.7 220.2 158.0 219.0 159.3 217.8 160.6 216.7 161.9 215.6 163.2 214.6 164.5 213.5 165.9 212.4 167.3 211.4 168.6 210.4 170.0 209.4 171.4 208.4 172.8 207.4 174.2 206.4 175.6 205.4 177.0 204.4 178.4 203.4 179.8 202.4 181.1 201.4 182.5 200.4 183.9 199.4 182.2 199.7 180.5 200.0 178.8 200.3 177.1 200.6 175.4 200.9 173.7 201.2 172.0 201.5 170.3 201.8 168.6 202.1 166.9 202.4 165.3 202.7 163.6 203.0 161.9 203.3 160.2 203.6 158.5 203.9 156.8 204.2 155.1 204.5 153.4 204.8 151.7 205.1 150.0 205.4 148.3 205.7 146.6 206.0 144.9 206.3 143.2 206.6 141.5 206.9 139.9 207.3 138.2 207.6 136.5 207.9 134.8 208.3 133.1 208.6 131.4 209.0 129.8 209.4 128.1 209.8 126.4 210.3 124.8 210.8 123.1 211.3 121.5 211.8 119.9 212.4 118.3 213.1 116.8 213.8 115.2 214.6 113.7 215.4 112.3 216.4 110.9 217.4 109.5 218.4 108.2 219.5 106.9 220.7 105.7 221.9 104.6 223.2 103.5 224.5 102.4 225.8 101.3 227.2 100.3 228.6 99.3 230.0 98.4 231.4 97.4 232.9 96.5 234.3 95.6 235.8 94.7 237.3 93.8 238.7 92.9 240.2 92.1 241.7 91.2 243.2 90.3 244.6 89.4 246.1 88.5 247.6 87.6 249.1 86.7 250.5 85.8 252.0 84.9 253.4 83.9 254.9 83.0 256.3 82.0 257.7 81.0 259.1 79.9 260.4 78.9 261.8 77.8 263.1 76.7 264.4 75.5 265.7 74.3 267.0 73.1 268.2 71.9 269.4 70.6 270.6 69.3 271.7 68.0 272.8 66.7 273.9 65.3 274.9 63.9 275.9 62.5 276.9 61.0 277.8 59.6 278.8 58.1 279.7 56.6 280.5 55.1 281.4 53.6 282.2 52.1 283.0 50.6 283.8 49.1 284.6 47.5 285.4Z" stroke="#000080"/>
<path d="M47.5 284.8 49.2 284.9 50.9 284.9 52.6 285.0 54.3 284.9 56.0 284.9 57.7 284.8 59.4 284.6 61.1 284.5 62.8 284.3 64.5 284.0 66.2 283.8 67.9 283.5 69.6 283.2 71.2 282.9 72.9 282.6 74.6 282.2 76.2 281.9 77.9 281.5 79.5 281.1 81.2 280.7 82.8 280.3 84.5 279.9 86.1 279.4 87.8 279.0 89.4 278.5 91.1 278.1 92.7 277.6 94.3 277.1 96.0 276.7 97.6 276.2 99.2 275.7 100.9 275.2 102.5 274.6 104.1 274.1 105.7 273.5 107.3 272.9 108.9 272.2 110.4 271.6 111.9 270.8 113.4 270.0 114.9 269.2 116.4 268.3 117.8 267.3 119.2 266.4 120.5 265.3 121.9 264.2 123.1 263.1 124.4 262.0 125.6 260.8 126.8 259.6 127.9 258.3 129.1 257.0 130.2 255.7 131.2 254.4 132.3 253.0 133.3 251.7 134.3 250.3 135.2 248.9 136.2 247.5 137.1 246.1 138.1 244.7 139.0 243.2 139.9 241.8 140.8 240.4 141.8 238.9 142.7 237.5 143.6 236.1 144.6 234.7 145.5 233.2 146.5 231.9 147.5 230.5 148.6 229.1 149.6 227.8 150.7 226.5 151.9 225.3 153.0 224.0 154.2 222.8 155.4 221.6 156.7 220.4 157.9 219.3 159.2 218.2 160.5 217.1 161.9 216.0 163.2 215.0 164.5 213.9 165.9 212.9 167.3 211.9 168.6 210.9 170.0 209.9 171.4 208.9 172.8 207.9 174.2 207.0 175.6 206.0 177.0 205.0 178.4 204.0 179.8 203.0 181.2 202.0 182.5 201.0 183.9 200.0 182.2 200.3 180.5 200.6 178.8 200.9 177.1 201.1 175.4 201.4 173.8 201.7 172.1 202.0 170.4 202.3 168.7 202.6 167.0 202.9 165.3 203.2 163.6 203.5 161.9 203.7 160.3 204.0 158.6 204.3 156.9 204.6 155.2 204.9 153.5 205.2 151.8 205.5 150.1 205.8 148.5 206.1 146.8 206.4 145.1 206.8 143.4 207.1 141.7 207.4 140.1 207.7 138.4 208.0 136.7 208.4 135.0 208.7 133.4 209.1 131.7 209.5 130.0 209.9 128.4 210.3 126.7 210.7 125.1 211.2 123.4 211.7 121.8 212.3 120.2 212.9 118.6 213.5 117.1 214.2 115.5 215.0 114.0 215.8 112.6 216.7 111.2 217.7 109.8 218.7 108.5 219.8 107.2 221.0 106.0 222.2 104.8 223.4 103.7 224.7 102.6 226.0 101.5 227.3 100.5 228.7 99.5 230.1 98.5 231.5 97.6 232.9 96.6 234.3 95.7 235.8 94.8 237.2 93.9 238.7 93.0 240.1 92.1 241.6 91.2 243.1 90.3 244.5 89.4 246.0 88.5 247.4 87.5 248.9 86.6 250.3 85.7 251.7 84.7 253.2 83.8 254.6 82.8 256.0 81.8 257.4 80.8 258.7 79.7 260.1 78.7 261.5 77.6 262.8 76.5 264.1 75.4 265.4 74.2 266.6 73.0 267.9 71.8 269.1 70.6 270.3 69.3 271.4 68.0 272.5 66.7 273.6 65.3 274.7 64.0 275.7 62.6 276.7 61.1 277.6 59.7 278.5 58.2 279.4 56.8 280.3 55.3 281.1 53.7 281.9 52.2 282.7 50.7 283.4 49.1 284.1 47.5 284.8Z" stroke="#008080"/>
</g>
<rect x="46.2" y="174.4" width="47.0" height="64.29999999999998" fill="#fff" stroke="#808080" stroke-width="0.9"/>
<line x1="47" x2="67.9" y1="180.5" y2="180.5" stroke="#000000" stroke-width="1.1"/>
<text x="69.90" y="184.04" font-size="8.9" text-anchor="start" >313 K</text>
<line x1="47" x2="67.9" y1="190.95" y2="190.95" stroke="#ff0000" stroke-width="1.1"/>
<text x="69.90" y="194.49" font-size="8.9" text-anchor="start" >333 K</text>
<line x1="47" x2="67.9" y1="201.4" y2="201.4" stroke="#0000ff" stroke-width="1.1"/>
<text x="69.90" y="204.94" font-size="8.9" text-anchor="start" >353 K</text>
<line x1="47" x2="67.9" y1="211.85" y2="211.85" stroke="#ff00ff" stroke-width="1.1"/>
<text x="69.90" y="215.39" font-size="8.9" text-anchor="start" >373 K</text>
<line x1="47" x2="67.9" y1="222.3" y2="222.3" stroke="#000080" stroke-width="1.1"/>
<text x="69.90" y="225.84" font-size="8.9" text-anchor="start" >393 K</text>
<line x1="47" x2="67.9" y1="232.75" y2="232.75" stroke="#008080" stroke-width="1.1"/>
<text x="69.90" y="236.29" font-size="8.9" text-anchor="start" >413 K</text>
<rect x="44.5" y="173.6" width="141.4" height="139.79999999999998" fill="none" stroke="#2a2a2a" stroke-width="1.3"/>
<path d="M47.20 313.4 v-4 M81.20 313.4 v-4 M115.20 313.4 v-4 M149.20 313.4 v-4 M183.20 313.4 v-4 M64.20 313.4 v-2.3 M98.20 313.4 v-2.3 M132.20 313.4 v-2.3 M166.20 313.4 v-2.3 M44.5 192.80 h4 M44.5 217.62 h4 M44.5 242.45 h4 M44.5 267.27 h4 M44.5 292.10 h4 M44.5 180.39 h2.3 M44.5 205.21 h2.3 M44.5 230.04 h2.3 M44.5 254.86 h2.3 M44.5 279.69 h2.3 M44.5 304.51 h2.3" stroke="#111" stroke-width="1.1" fill="none"/>
<text x="47.20" y="325.20" font-size="10.3" text-anchor="middle" >-40</text>
<text x="81.20" y="325.20" font-size="10.3" text-anchor="middle" >-20</text>
<text x="115.20" y="325.20" font-size="10.3" text-anchor="middle" >0</text>
<text x="149.20" y="325.20" font-size="10.3" text-anchor="middle" >20</text>
<text x="183.20" y="325.20" font-size="10.3" text-anchor="middle" >40</text>
<text x="40.20" y="196.30" font-size="10.3" text-anchor="end" >20</text>
<text x="40.20" y="221.12" font-size="10.3" text-anchor="end" >10</text>
<text x="40.20" y="245.95" font-size="10.3" text-anchor="end" >0</text>
<text x="40.20" y="270.77" font-size="10.3" text-anchor="end" >-10</text>
<text x="40.20" y="295.60" font-size="10.3" text-anchor="end" >-20</text>
<text x="26.5" y="170.2" font-size="22.4">t<tspan font-size="13.5" dy="7.3">1</tspan></text>
<text x="94.60" y="182.40" font-size="12.6" text-anchor="start" >x = 0.015</text>
<text x="131.20" y="290.50" font-size="8.9" text-anchor="start" >E = 40 kV/cm,</text>
<text x="131.20" y="299.60" font-size="8.9" text-anchor="start" >f = 50 Hz</text>
<clipPath id="ct2"><rect x="236.1" y="172.7" width="146.20000000000002" height="141.40000000000003"/></clipPath>
<g clip-path="url(#ct2)" fill="none" stroke-width="1.2" stroke-linejoin="round">
<path d="M239.6 311.3 241.7 310.8 243.8 310.4 245.9 310.0 248.0 309.6 250.1 309.1 252.2 308.7 254.3 308.3 256.5 307.8 258.6 307.4 260.7 307.0 262.8 306.5 264.9 306.1 267.0 305.6 269.1 305.2 271.2 304.7 273.3 304.3 275.4 303.8 277.5 303.3 279.6 302.8 281.6 302.3 283.7 301.8 285.8 301.3 287.9 300.7 290.0 300.1 292.0 299.5 294.0 298.8 296.0 298.0 298.0 297.2 300.0 296.3 301.8 295.2 303.7 294.1 305.4 292.8 307.1 291.5 308.6 290.0 310.1 288.4 311.5 286.8 312.8 285.0 314.0 283.2 315.1 281.4 316.2 279.6 317.2 277.7 318.1 275.7 319.0 273.8 319.9 271.8 320.7 269.8 321.5 267.8 322.3 265.8 323.1 263.8 323.8 261.8 324.6 259.8 325.3 257.8 326.0 255.7 326.7 253.7 327.4 251.7 328.1 249.6 328.8 247.6 329.4 245.6 330.1 243.5 330.8 241.5 331.5 239.5 332.2 237.4 332.9 235.4 333.6 233.4 334.3 231.3 335.0 229.3 335.8 227.3 336.5 225.3 337.3 223.3 338.1 221.3 338.9 219.3 339.7 217.3 340.5 215.3 341.4 213.3 342.3 211.4 343.2 209.5 344.2 207.5 345.2 205.6 346.2 203.7 347.3 201.9 348.4 200.0 349.5 198.2 350.8 196.4 352.0 194.7 353.3 193.0 354.7 191.3 356.1 189.7 357.6 188.2 359.2 186.7 360.8 185.3 362.4 183.9 364.1 182.6 365.9 181.4 367.7 180.2 369.5 179.1 371.4 178.0 373.3 177.0 375.3 176.1 377.2 175.2 379.2 174.4 377.1 174.9 375.0 175.4 372.9 176.0 370.9 176.5 368.8 177.0 366.7 177.5 364.6 178.1 362.5 178.6 360.4 179.1 358.4 179.6 356.3 180.2 354.2 180.7 352.1 181.2 350.0 181.8 347.9 182.3 345.9 182.8 343.8 183.4 341.7 183.9 339.6 184.4 337.5 185.0 335.5 185.5 333.4 186.1 331.3 186.6 329.2 187.2 327.2 187.8 325.1 188.5 323.1 189.2 321.1 189.9 319.1 190.7 317.1 191.6 315.2 192.6 313.4 193.7 311.6 194.9 309.9 196.3 308.4 197.8 306.9 199.3 305.5 201.0 304.3 202.7 303.1 204.5 302.0 206.3 300.9 208.2 299.9 210.1 299.0 212.1 298.1 214.0 297.2 216.0 296.4 218.0 295.6 220.0 294.8 222.0 294.1 224.0 293.3 226.0 292.6 228.0 291.9 230.1 291.2 232.1 290.5 234.1 289.8 236.2 289.2 238.2 288.5 240.3 287.8 242.3 287.2 244.3 286.5 246.4 285.8 248.4 285.2 250.5 284.5 252.5 283.8 254.6 283.1 256.6 282.4 258.6 281.7 260.6 281.0 262.7 280.3 264.7 279.5 266.7 278.7 268.7 278.0 270.7 277.1 272.7 276.3 274.7 275.4 276.7 274.6 278.6 273.6 280.6 272.7 282.5 271.7 284.4 270.6 286.2 269.5 288.1 268.3 289.9 267.1 291.7 265.9 293.4 264.5 295.1 263.1 296.7 261.6 298.3 260.1 299.8 258.5 301.2 256.8 302.5 255.0 303.8 253.2 304.9 251.4 306.0 249.5 307.0 247.6 308.0 245.6 308.9 243.6 309.7 241.6 310.5 239.6 311.3Z" stroke="#000000"/>
<path d="M239.6 302.2 241.5 301.8 243.4 301.4 245.3 301.0 247.2 300.5 249.1 300.1 251.0 299.7 252.9 299.2 254.8 298.8 256.7 298.4 258.6 297.9 260.5 297.5 262.4 297.0 264.3 296.6 266.2 296.1 268.1 295.6 270.0 295.2 271.9 294.7 273.8 294.2 275.7 293.7 277.6 293.2 279.4 292.7 281.3 292.1 283.2 291.6 285.0 291.0 286.9 290.3 288.7 289.7 290.6 289.0 292.4 288.3 294.2 287.5 295.9 286.7 297.7 285.8 299.4 284.8 301.0 283.8 302.7 282.7 304.2 281.6 305.8 280.4 307.3 279.1 308.7 277.8 310.1 276.4 311.4 275.0 312.7 273.5 313.9 272.0 315.1 270.4 316.3 268.9 317.4 267.3 318.4 265.6 319.5 264.0 320.5 262.3 321.5 260.6 322.5 258.9 323.4 257.2 324.4 255.5 325.3 253.8 326.2 252.1 327.1 250.3 328.0 248.6 328.8 246.9 329.7 245.1 330.6 243.4 331.4 241.6 332.3 239.9 333.2 238.1 334.1 236.4 334.9 234.6 335.8 232.9 336.7 231.2 337.6 229.4 338.5 227.7 339.4 226.0 340.4 224.3 341.3 222.6 342.3 220.9 343.3 219.2 344.3 217.5 345.3 215.8 346.3 214.2 347.4 212.6 348.5 211.0 349.6 209.4 350.8 207.8 352.0 206.3 353.2 204.7 354.5 203.2 355.8 201.8 357.1 200.4 358.5 199.0 359.9 197.6 361.3 196.3 362.8 195.0 364.3 193.8 365.8 192.6 367.4 191.4 369.0 190.3 370.7 189.2 372.3 188.2 374.0 187.2 375.7 186.3 377.4 185.4 379.2 184.5 377.3 184.9 375.3 185.3 373.4 185.7 371.4 186.2 369.5 186.7 367.6 187.1 365.7 187.6 363.8 188.1 361.8 188.6 359.9 189.0 358.0 189.4 356.0 189.8 354.1 190.1 352.1 190.4 350.1 190.7 348.2 191.1 346.3 191.4 344.3 191.9 342.4 192.5 340.6 193.2 338.8 194.1 337.0 195.0 335.2 195.8 333.4 196.6 331.6 197.4 329.8 198.1 327.9 198.8 326.0 199.5 324.2 200.2 322.3 200.8 320.5 201.5 318.6 202.3 316.8 203.1 315.0 203.9 313.2 204.8 311.5 205.8 309.8 206.8 308.2 208.0 306.7 209.2 305.2 210.5 303.8 211.9 302.4 213.3 301.1 214.8 299.9 216.4 298.7 218.0 297.6 219.6 296.5 221.3 295.6 223.0 294.6 224.8 293.7 226.5 292.9 228.3 292.1 230.2 291.4 232.0 290.7 233.9 290.1 235.8 289.6 237.7 289.0 239.6 288.5 241.5 287.9 243.3 287.2 245.2 286.4 247.0 285.5 248.8 284.6 250.5 283.5 252.2 282.4 253.9 281.3 255.5 280.2 257.1 279.2 258.8 278.3 260.6 277.7 262.5 277.1 264.4 276.5 266.3 275.8 268.2 275.1 270.0 274.4 271.8 273.5 273.6 272.6 275.4 271.7 277.1 270.6 278.8 269.6 280.5 268.4 282.1 267.2 283.7 265.9 285.2 264.6 286.7 263.2 288.1 261.8 289.5 260.3 290.8 258.8 292.0 257.2 293.2 255.5 294.3 253.9 295.4 252.2 296.4 250.4 297.4 248.7 298.3 246.9 299.1 245.1 300.0 243.3 300.7 241.4 301.5 239.6 302.2Z" stroke="#ff0000"/>
<path d="M239.6 294.0 241.4 293.9 243.2 293.7 245.0 293.6 246.8 293.4 248.6 293.2 250.4 292.9 252.2 292.7 254.0 292.4 255.8 292.1 257.5 291.7 259.3 291.3 261.1 290.9 262.8 290.5 264.6 290.1 266.3 289.6 268.1 289.1 269.8 288.6 271.5 288.0 273.2 287.5 275.0 286.9 276.7 286.2 278.3 285.6 280.0 284.9 281.7 284.2 283.3 283.5 285.0 282.7 286.6 282.0 288.2 281.2 289.8 280.3 291.4 279.5 293.0 278.6 294.6 277.7 296.1 276.7 297.7 275.8 299.2 274.8 300.7 273.8 302.2 272.8 303.6 271.7 305.1 270.6 306.5 269.5 307.9 268.3 309.3 267.2 310.6 266.0 312.0 264.7 313.3 263.5 314.5 262.2 315.8 260.9 317.0 259.5 318.2 258.2 319.4 256.8 320.5 255.4 321.6 254.0 322.7 252.5 323.8 251.1 324.9 249.6 325.9 248.1 327.0 246.7 328.0 245.2 329.0 243.7 330.0 242.2 331.1 240.7 332.2 239.3 333.2 237.8 334.4 236.4 335.5 235.0 336.6 233.5 337.7 232.1 338.8 230.7 339.9 229.3 341.0 227.8 342.1 226.4 343.2 224.9 344.2 223.4 345.1 221.9 346.1 220.3 347.0 218.8 348.0 217.3 349.1 215.8 350.3 214.5 351.6 213.2 352.9 211.9 354.2 210.7 355.6 209.5 357.0 208.4 358.4 207.3 359.9 206.2 361.3 205.1 362.8 204.1 364.3 203.1 365.8 202.1 367.3 201.1 368.9 200.1 370.4 199.1 371.9 198.1 373.4 197.1 374.9 196.1 376.3 195.0 377.8 193.9 379.2 192.8 377.4 193.2 375.6 193.6 373.8 194.0 372.0 194.3 370.2 194.7 368.4 195.1 366.6 195.5 364.9 195.8 363.1 196.2 361.3 196.6 359.5 197.0 357.7 197.4 355.9 197.8 354.1 198.2 352.3 198.6 350.5 199.0 348.8 199.5 347.0 199.9 345.2 200.4 343.4 200.9 341.7 201.4 339.9 201.9 338.2 202.4 336.4 202.9 334.6 203.4 332.9 204.0 331.1 204.5 329.4 205.1 327.7 205.7 325.9 206.3 324.2 206.9 322.5 207.5 320.8 208.1 319.0 208.8 317.3 209.5 315.7 210.2 314.0 211.0 312.4 211.8 310.7 212.7 309.2 213.6 307.7 214.7 306.2 215.8 304.8 216.9 303.5 218.2 302.2 219.5 301.0 220.9 299.8 222.3 298.7 223.7 297.6 225.2 296.6 226.7 295.6 228.3 294.6 229.8 293.7 231.4 292.8 233.0 291.9 234.6 291.0 236.2 290.1 237.8 289.2 239.4 288.3 241.0 287.4 242.6 286.5 244.2 285.6 245.8 284.7 247.4 283.7 249.0 282.8 250.5 281.8 252.1 280.9 253.7 279.9 255.2 278.9 256.8 277.9 258.3 276.9 259.8 275.9 261.3 274.8 262.8 273.8 264.3 272.7 265.8 271.6 267.3 270.5 268.8 269.4 270.2 268.2 271.6 267.0 273.0 265.8 274.4 264.6 275.8 263.4 277.1 262.1 278.4 260.8 279.7 259.4 281.0 258.1 282.2 256.7 283.4 255.3 284.5 253.8 285.7 252.3 286.7 250.8 287.8 249.3 288.8 247.7 289.8 246.2 290.7 244.5 291.6 242.9 292.4 241.3 293.2 239.6 294.0Z" stroke="#0000ff"/>
<path d="M239.6 288.3 241.3 288.0 243.0 287.7 244.7 287.4 246.4 287.1 248.0 286.7 249.7 286.4 251.4 286.1 253.1 285.7 254.8 285.4 256.5 285.0 258.1 284.6 259.8 284.3 261.5 283.9 263.2 283.5 264.8 283.1 266.5 282.7 268.1 282.2 269.8 281.8 271.5 281.3 273.1 280.8 274.8 280.3 276.4 279.8 278.0 279.3 279.6 278.7 281.3 278.1 282.9 277.5 284.4 276.8 286.0 276.2 287.6 275.5 289.2 274.7 290.7 274.0 292.2 273.2 293.7 272.4 295.2 271.5 296.7 270.6 298.2 269.7 299.6 268.8 301.0 267.9 302.4 266.9 303.8 265.9 305.2 264.8 306.6 263.8 307.9 262.7 309.2 261.6 310.5 260.5 311.8 259.4 313.1 258.2 314.4 257.1 315.6 255.9 316.9 254.7 318.1 253.5 319.3 252.3 320.6 251.1 321.8 249.9 323.0 248.7 324.2 247.4 325.4 246.2 326.6 245.0 327.8 243.7 329.0 242.5 330.2 241.3 331.3 240.0 332.5 238.8 333.7 237.6 334.9 236.3 336.1 235.1 337.3 233.9 338.5 232.6 339.7 231.4 340.9 230.2 342.1 229.0 343.4 227.8 344.6 226.6 345.8 225.4 347.1 224.2 348.3 223.0 349.6 221.8 350.8 220.6 352.1 219.5 353.4 218.3 354.6 217.2 355.9 216.0 357.2 214.9 358.5 213.8 359.8 212.7 361.2 211.6 362.5 210.5 363.9 209.5 365.2 208.4 366.6 207.4 367.9 206.3 369.3 205.3 370.7 204.3 372.1 203.3 373.5 202.3 374.9 201.3 376.3 200.3 377.8 199.4 379.2 198.5 377.5 198.7 375.8 198.9 374.0 199.2 372.3 199.5 370.6 199.8 368.9 200.1 367.2 200.4 365.5 200.8 363.8 201.1 362.1 201.5 360.4 201.9 358.7 202.3 357.0 202.6 355.3 203.0 353.6 203.5 351.9 203.9 350.2 204.3 348.5 204.7 346.8 205.1 345.1 205.6 343.5 206.0 341.8 206.5 340.1 206.9 338.4 207.4 336.7 207.8 335.1 208.3 333.4 208.8 331.7 209.2 330.0 209.7 328.4 210.3 326.7 210.8 325.1 211.4 323.4 211.9 321.8 212.6 320.2 213.2 318.6 213.9 317.0 214.7 315.5 215.4 313.9 216.3 312.4 217.1 311.0 218.1 309.5 219.0 308.1 220.1 306.7 221.1 305.4 222.2 304.1 223.4 302.8 224.6 301.6 225.8 300.3 227.0 299.2 228.3 298.0 229.6 296.8 230.9 295.7 232.2 294.6 233.6 293.5 234.9 292.4 236.3 291.4 237.7 290.3 239.1 289.2 240.4 288.2 241.8 287.1 243.2 286.1 244.6 285.1 246.0 284.0 247.4 283.0 248.8 281.9 250.2 280.8 251.5 279.8 252.9 278.7 254.3 277.6 255.7 276.5 257.0 275.5 258.4 274.4 259.8 273.3 261.1 272.2 262.5 271.1 263.8 269.9 265.1 268.7 266.3 267.4 267.5 266.1 268.7 264.8 269.8 263.4 270.9 262.0 271.9 260.6 272.9 259.1 273.9 257.7 274.8 256.2 275.8 254.8 276.7 253.3 277.7 251.8 278.6 250.4 279.6 249.0 280.5 247.5 281.5 246.1 282.6 244.7 283.6 243.4 284.7 242.1 285.9 240.8 287.1 239.6 288.3Z" stroke="#ff00ff"/>
<path d="M239.6 284.9 241.2 284.6 242.9 284.3 244.5 284.0 246.2 283.6 247.8 283.3 249.5 283.0 251.1 282.6 252.8 282.3 254.4 281.9 256.1 281.6 257.7 281.2 259.3 280.9 261.0 280.5 262.6 280.2 264.3 279.8 265.9 279.4 267.5 279.0 269.1 278.6 270.8 278.2 272.4 277.7 274.0 277.3 275.6 276.8 277.2 276.3 278.8 275.8 280.4 275.3 282.0 274.8 283.6 274.2 285.2 273.6 286.7 273.0 288.3 272.3 289.8 271.7 291.3 271.0 292.9 270.2 294.4 269.5 295.8 268.7 297.3 267.9 298.8 267.0 300.2 266.2 301.6 265.3 303.0 264.4 304.4 263.4 305.8 262.5 307.2 261.5 308.5 260.5 309.8 259.5 311.2 258.4 312.5 257.4 313.8 256.3 315.0 255.2 316.3 254.1 317.6 253.0 318.8 251.9 320.1 250.8 321.3 249.6 322.5 248.5 323.8 247.3 325.0 246.2 326.2 245.0 327.4 243.9 328.6 242.7 329.8 241.5 331.0 240.4 332.2 239.2 333.4 238.0 334.6 236.9 335.8 235.7 337.0 234.5 338.3 233.3 339.5 232.2 340.7 231.0 341.9 229.9 343.1 228.7 344.4 227.6 345.6 226.4 346.8 225.3 348.1 224.2 349.3 223.1 350.6 222.0 351.9 220.9 353.1 219.8 354.4 218.7 355.7 217.6 357.0 216.6 358.3 215.5 359.7 214.5 361.0 213.5 362.3 212.4 363.7 211.5 365.0 210.5 366.4 209.5 367.8 208.5 369.2 207.6 370.6 206.7 372.0 205.8 373.4 204.9 374.8 204.0 376.3 203.1 377.7 202.3 379.2 201.5 377.5 201.8 375.9 202.1 374.2 202.4 372.5 202.7 370.8 203.1 369.2 203.4 367.5 203.7 365.8 204.1 364.2 204.4 362.5 204.7 360.8 205.0 359.2 205.4 357.5 205.7 355.8 206.0 354.2 206.4 352.5 206.7 350.8 207.1 349.2 207.4 347.5 207.8 345.8 208.1 344.2 208.5 342.5 208.8 340.8 209.2 339.2 209.6 337.5 210.0 335.9 210.4 334.2 210.8 332.6 211.2 330.9 211.6 329.3 212.1 327.6 212.5 326.0 213.0 324.4 213.5 322.8 214.1 321.2 214.7 319.6 215.3 318.0 215.9 316.5 216.6 315.0 217.4 313.4 218.2 312.0 219.0 310.5 219.9 309.1 220.8 307.7 221.8 306.3 222.8 305.0 223.9 303.7 225.0 302.5 226.1 301.2 227.3 300.0 228.5 298.8 229.7 297.6 231.0 296.5 232.2 295.4 233.5 294.3 234.8 293.2 236.1 292.1 237.4 291.0 238.7 289.9 240.0 288.8 241.3 287.7 242.6 286.7 243.9 285.6 245.3 284.5 246.6 283.4 247.9 282.4 249.2 281.3 250.5 280.2 251.8 279.1 253.1 277.9 254.4 276.8 255.7 275.7 256.9 274.5 258.2 273.4 259.4 272.2 260.7 271.0 261.9 269.8 263.1 268.6 264.3 267.3 265.4 266.1 266.6 264.8 267.7 263.5 268.8 262.2 269.9 260.9 271.0 259.6 272.1 258.3 273.1 256.9 274.2 255.5 275.2 254.2 276.2 252.8 277.1 251.3 278.1 249.9 279.0 248.5 279.9 247.0 280.8 245.6 281.7 244.1 282.5 242.6 283.3 241.1 284.1 239.6 284.9Z" stroke="#000080"/>
<path d="M239.6 282.3 241.2 282.0 242.8 281.7 244.4 281.3 246.1 281.0 247.7 280.7 249.3 280.3 250.9 280.0 252.5 279.6 254.1 279.3 255.7 278.9 257.3 278.6 259.0 278.2 260.6 277.8 262.2 277.4 263.8 277.1 265.4 276.7 267.0 276.2 268.6 275.8 270.1 275.4 271.7 275.0 273.3 274.5 274.9 274.0 276.5 273.6 278.0 273.1 279.6 272.5 281.2 272.0 282.7 271.5 284.3 270.9 285.8 270.3 287.4 269.7 288.9 269.1 290.4 268.4 291.9 267.7 293.4 267.1 294.9 266.3 296.3 265.6 297.8 264.8 299.3 264.1 300.7 263.2 302.1 262.4 303.5 261.6 304.9 260.7 306.3 259.8 307.7 258.9 309.1 258.0 310.4 257.0 311.8 256.1 313.1 255.1 314.4 254.1 315.7 253.1 317.0 252.1 318.3 251.1 319.6 250.1 320.9 249.0 322.2 248.0 323.4 246.9 324.7 245.8 325.9 244.8 327.2 243.7 328.4 242.6 329.7 241.5 330.9 240.4 332.1 239.3 333.4 238.3 334.6 237.2 335.9 236.1 337.1 235.0 338.3 233.9 339.6 232.8 340.8 231.7 342.1 230.7 343.3 229.6 344.6 228.5 345.8 227.4 347.1 226.4 348.4 225.3 349.6 224.3 350.9 223.2 352.2 222.2 353.5 221.2 354.8 220.2 356.1 219.1 357.4 218.1 358.7 217.1 360.0 216.1 361.3 215.2 362.7 214.2 364.0 213.2 365.4 212.3 366.7 211.3 368.1 210.4 369.4 209.5 370.8 208.6 372.2 207.7 373.6 206.8 375.0 205.9 376.4 205.0 377.8 204.2 379.2 203.3 377.6 203.6 375.9 203.9 374.3 204.2 372.6 204.5 371.0 204.8 369.3 205.1 367.7 205.4 366.0 205.7 364.4 206.0 362.7 206.3 361.1 206.6 359.4 206.9 357.8 207.2 356.1 207.5 354.5 207.8 352.8 208.1 351.2 208.4 349.6 208.7 347.9 209.0 346.3 209.4 344.6 209.7 343.0 210.0 341.4 210.4 339.7 210.7 338.1 211.1 336.4 211.5 334.8 211.9 333.2 212.3 331.6 212.7 330.0 213.1 328.3 213.6 326.7 214.0 325.1 214.5 323.6 215.1 322.0 215.6 320.4 216.2 318.9 216.9 317.3 217.5 315.8 218.3 314.3 219.0 312.9 219.8 311.4 220.7 310.0 221.5 308.6 222.5 307.2 223.4 305.9 224.4 304.6 225.5 303.3 226.6 302.0 227.7 300.8 228.8 299.6 229.9 298.4 231.1 297.2 232.3 296.1 233.5 294.9 234.7 293.8 236.0 292.7 237.2 291.5 238.5 290.4 239.7 289.3 241.0 288.2 242.2 287.2 243.5 286.1 244.8 285.0 246.0 283.9 247.3 282.8 248.6 281.7 249.8 280.5 251.1 279.4 252.3 278.3 253.5 277.1 254.8 276.0 256.0 274.8 257.2 273.7 258.4 272.5 259.6 271.3 260.7 270.0 261.9 268.8 263.0 267.6 264.1 266.3 265.2 265.0 266.3 263.7 267.4 262.4 268.4 261.1 269.4 259.8 270.4 258.4 271.4 257.0 272.4 255.7 273.3 254.3 274.3 252.8 275.2 251.4 276.0 250.0 276.9 248.5 277.7 247.1 278.5 245.6 279.3 244.1 280.1 242.6 280.9 241.1 281.6 239.6 282.3Z" stroke="#008080"/>
</g>
<rect x="238.2" y="173.5" width="47.0" height="64.5" fill="#fff" stroke="#808080" stroke-width="0.9"/>
<line x1="238.8" x2="260.4" y1="179.7" y2="179.7" stroke="#000000" stroke-width="1.1"/>
<text x="262.20" y="183.15" font-size="8.65" text-anchor="start" >333 K</text>
<line x1="238.8" x2="260.4" y1="190.29999999999998" y2="190.29999999999998" stroke="#ff0000" stroke-width="1.1"/>
<text x="262.20" y="193.75" font-size="8.65" text-anchor="start" >343 K</text>
<line x1="238.8" x2="260.4" y1="200.89999999999998" y2="200.89999999999998" stroke="#0000ff" stroke-width="1.1"/>
<text x="262.20" y="204.35" font-size="8.65" text-anchor="start" >353 K</text>
<line x1="238.8" x2="260.4" y1="211.5" y2="211.5" stroke="#ff00ff" stroke-width="1.1"/>
<text x="262.20" y="214.95" font-size="8.65" text-anchor="start" >363 K</text>
<line x1="238.8" x2="260.4" y1="222.1" y2="222.1" stroke="#000080" stroke-width="1.1"/>
<text x="262.20" y="225.55" font-size="8.65" text-anchor="start" >373 K</text>
<line x1="238.8" x2="260.4" y1="232.7" y2="232.7" stroke="#008080" stroke-width="1.1"/>
<text x="262.20" y="236.15" font-size="8.65" text-anchor="start" >423 K</text>
<rect x="236.1" y="172.7" width="146.20000000000002" height="141.40000000000003" fill="none" stroke="#2a2a2a" stroke-width="1.3"/>
<path d="M239.60 314.1 v-4 M274.50 314.1 v-4 M309.40 314.1 v-4 M344.30 314.1 v-4 M379.20 314.1 v-4 M257.05 314.1 v-2.3 M291.95 314.1 v-2.3 M326.85 314.1 v-2.3 M361.75 314.1 v-2.3 M236.1 205.60 h4 M236.1 243.20 h4 M236.1 280.80 h4 M236.1 186.80 h2.3 M236.1 224.40 h2.3 M236.1 262.00 h2.3 M236.1 299.60 h2.3" stroke="#111" stroke-width="1.1" fill="none"/>
<text x="239.60" y="325.90" font-size="10.3" text-anchor="middle" >-40</text>
<text x="274.50" y="325.90" font-size="10.3" text-anchor="middle" >-20</text>
<text x="309.40" y="325.90" font-size="10.3" text-anchor="middle" >0</text>
<text x="344.30" y="325.90" font-size="10.3" text-anchor="middle" >20</text>
<text x="379.20" y="325.90" font-size="10.3" text-anchor="middle" >40</text>
<text x="231.80" y="209.10" font-size="10.3" text-anchor="end" >10</text>
<text x="231.80" y="246.70" font-size="10.3" text-anchor="end" >0</text>
<text x="231.80" y="284.30" font-size="10.3" text-anchor="end" >-10</text>
<text x="211.5" y="170.6" font-size="22.4">t<tspan font-size="13.5" dy="7.3">2</tspan></text>
<text x="297.50" y="182.70" font-size="12.6" text-anchor="start" >x = 0.03</text>
<text x="325.20" y="287.20" font-size="8.8" text-anchor="start" >E = 40 kV/cm,</text>
<text x="325.20" y="297.50" font-size="8.8" text-anchor="start" >f = 50 Hz</text>
<clipPath id="ct3"><rect x="433.3" y="171.7" width="145.8" height="144.2"/></clipPath>
<g clip-path="url(#ct3)" fill="none" stroke-width="1.2" stroke-linejoin="round">
<path d="M436.4 311.7 438.6 311.8 440.7 311.8 442.9 311.9 445.1 311.8 447.2 311.8 449.4 311.7 451.6 311.6 453.7 311.4 455.9 311.3 458.0 311.0 460.2 310.8 462.3 310.6 464.5 310.3 466.6 310.0 468.8 309.6 470.9 309.3 473.1 308.9 475.2 308.6 477.3 308.2 479.4 307.8 481.6 307.3 483.7 306.9 485.8 306.4 487.9 305.9 490.0 305.4 492.1 304.8 494.2 304.2 496.2 303.5 498.3 302.7 500.2 301.9 502.2 300.9 504.1 299.9 505.9 298.7 507.7 297.4 509.3 296.0 510.9 294.5 512.3 292.9 513.7 291.3 515.0 289.6 516.3 287.8 517.5 286.0 518.6 284.1 519.6 282.2 520.7 280.3 521.7 278.4 522.6 276.4 523.5 274.5 524.4 272.5 525.2 270.5 526.0 268.5 526.8 266.5 527.6 264.4 528.3 262.4 529.0 260.3 529.7 258.3 530.3 256.2 530.9 254.1 531.6 252.0 532.2 250.0 532.7 247.9 533.3 245.8 533.9 243.7 534.5 241.6 535.1 239.5 535.7 237.4 536.3 235.4 536.9 233.3 537.5 231.2 538.2 229.2 538.9 227.1 539.6 225.1 540.3 223.0 541.1 221.0 541.9 219.0 542.7 217.0 543.5 215.0 544.4 213.0 545.3 211.0 546.3 209.1 547.3 207.2 548.3 205.3 549.4 203.4 550.5 201.5 551.7 199.7 552.9 197.9 554.2 196.1 555.5 194.4 556.9 192.8 558.3 191.1 559.8 189.6 561.4 188.1 563.0 186.6 564.7 185.3 566.4 183.9 568.1 182.6 569.9 181.4 571.6 180.1 573.4 178.9 575.3 177.7 573.2 176.9 571.1 176.3 569.0 175.9 566.8 175.6 564.6 175.6 562.4 175.7 560.2 176.0 558.1 176.3 555.9 176.7 553.8 177.2 551.6 177.7 549.5 178.2 547.4 178.7 545.2 179.2 543.1 179.7 540.9 180.2 538.8 180.6 536.7 181.1 534.5 181.6 532.4 182.0 530.2 182.5 528.1 183.0 525.9 183.5 523.8 183.9 521.7 184.5 519.6 185.0 517.4 185.6 515.3 186.2 513.3 186.9 511.2 187.8 509.3 188.7 507.3 189.8 505.5 191.0 503.8 192.3 502.2 193.8 500.7 195.4 499.3 197.1 498.0 198.9 496.7 200.7 495.6 202.5 494.5 204.4 493.4 206.4 492.5 208.3 491.5 210.3 490.6 212.3 489.7 214.3 488.8 216.3 488.0 218.3 487.2 220.4 486.4 222.4 485.7 224.5 485.0 226.6 484.4 228.7 483.8 230.8 483.2 232.9 482.7 235.1 482.2 237.2 481.7 239.3 481.3 241.5 480.8 243.6 480.3 245.8 479.8 247.9 479.3 250.0 478.8 252.2 478.2 254.3 477.6 256.4 477.0 258.5 476.3 260.6 475.6 262.6 474.8 264.7 474.1 266.7 473.3 268.8 472.5 270.8 471.6 272.9 470.8 274.9 470.0 276.9 469.1 278.9 468.2 281.0 467.3 282.9 466.4 284.9 465.4 286.9 464.4 288.8 463.3 290.7 462.1 292.6 460.9 294.4 459.7 296.2 458.3 298.0 456.9 299.6 455.4 301.2 453.8 302.7 452.1 304.1 450.3 305.4 448.5 306.6 446.6 307.7 444.6 308.7 442.6 309.6 440.6 310.3 438.5 311.0 436.4 311.7Z" stroke="#000000"/>
<path d="M436.4 302.8 438.4 302.6 440.4 302.4 442.4 302.1 444.4 301.9 446.4 301.7 448.4 301.4 450.4 301.2 452.4 300.9 454.4 300.6 456.4 300.4 458.4 300.1 460.4 299.8 462.4 299.5 464.4 299.2 466.4 298.9 468.4 298.6 470.4 298.3 472.4 298.0 474.4 297.6 476.4 297.3 478.3 296.9 480.3 296.5 482.3 296.1 484.3 295.7 486.2 295.3 488.2 294.8 490.2 294.3 492.1 293.8 494.0 293.2 496.0 292.6 497.9 291.9 499.7 291.1 501.6 290.3 503.4 289.4 505.2 288.5 506.9 287.4 508.6 286.3 510.2 285.1 511.7 283.8 513.2 282.4 514.6 281.0 516.0 279.5 517.3 277.9 518.5 276.3 519.6 274.7 520.8 273.0 521.8 271.3 522.9 269.6 523.8 267.8 524.8 266.0 525.7 264.2 526.6 262.4 527.5 260.6 528.3 258.8 529.1 256.9 530.0 255.1 530.8 253.2 531.5 251.4 532.3 249.5 533.1 247.6 533.8 245.8 534.6 243.9 535.3 242.0 536.0 240.1 536.8 238.3 537.5 236.4 538.2 234.5 539.0 232.6 539.7 230.7 540.5 228.9 541.2 227.0 542.0 225.1 542.7 223.2 543.5 221.4 544.3 219.5 545.1 217.7 545.9 215.8 546.8 214.0 547.7 212.2 548.6 210.4 549.6 208.6 550.6 206.9 551.6 205.2 552.7 203.5 553.9 201.8 555.1 200.2 556.4 198.7 557.7 197.2 559.2 195.8 560.7 194.4 562.3 193.2 563.9 192.0 565.6 190.9 567.3 189.8 569.0 188.7 570.7 187.6 572.4 186.5 574.0 185.3 575.6 184.1 573.6 184.3 571.6 184.6 569.6 184.9 567.6 185.1 565.6 185.4 563.6 185.7 561.7 186.1 559.7 186.4 557.7 186.7 555.7 187.0 553.7 187.4 551.7 187.7 549.8 188.1 547.8 188.5 545.8 188.8 543.8 189.2 541.9 189.6 539.9 190.0 537.9 190.4 535.9 190.8 534.0 191.2 532.0 191.7 530.0 192.1 528.1 192.5 526.1 193.0 524.2 193.5 522.2 194.0 520.3 194.5 518.3 195.0 516.4 195.6 514.5 196.2 512.6 196.9 510.7 197.6 508.9 198.4 507.1 199.4 505.4 200.4 503.7 201.5 502.1 202.7 500.6 204.0 499.2 205.5 497.8 207.0 496.6 208.5 495.4 210.2 494.3 211.9 493.3 213.6 492.3 215.3 491.3 217.1 490.4 218.9 489.5 220.7 488.7 222.5 487.9 224.4 487.1 226.2 486.3 228.1 485.5 229.9 484.8 231.8 484.1 233.7 483.3 235.6 482.6 237.4 481.9 239.3 481.2 241.2 480.5 243.1 479.9 245.0 479.2 246.9 478.5 248.8 477.8 250.6 477.1 252.5 476.3 254.4 475.6 256.3 474.8 258.1 474.1 260.0 473.3 261.8 472.5 263.7 471.6 265.5 470.7 267.3 469.8 269.1 468.9 270.9 467.9 272.7 466.9 274.4 465.9 276.1 464.8 277.8 463.6 279.5 462.4 281.1 461.2 282.7 459.9 284.2 458.6 285.8 457.3 287.2 455.9 288.7 454.4 290.1 452.9 291.4 451.4 292.8 449.9 294.0 448.3 295.2 446.6 296.4 445.0 297.6 443.3 298.7 441.6 299.7 439.9 300.8 438.1 301.8 436.4 302.8Z" stroke="#ff0000"/>
<path d="M436.4 296.5 438.3 296.5 440.2 296.4 442.1 296.4 444.0 296.3 445.9 296.2 447.8 296.1 449.7 296.0 451.6 295.8 453.5 295.6 455.4 295.4 457.2 295.2 459.1 295.0 461.0 294.7 462.9 294.4 464.8 294.1 466.6 293.7 468.5 293.4 470.3 293.0 472.2 292.6 474.0 292.1 475.9 291.7 477.7 291.2 479.5 290.6 481.4 290.1 483.2 289.5 485.0 288.9 486.8 288.2 488.5 287.6 490.3 286.8 492.0 286.1 493.8 285.3 495.5 284.5 497.2 283.6 498.8 282.7 500.5 281.8 502.1 280.8 503.7 279.8 505.3 278.7 506.8 277.6 508.4 276.5 509.9 275.3 511.3 274.1 512.8 272.9 514.2 271.6 515.6 270.3 516.9 269.0 518.3 267.7 519.6 266.3 520.9 264.9 522.1 263.5 523.4 262.0 524.6 260.5 525.7 259.0 526.8 257.5 527.9 255.9 529.0 254.3 530.0 252.7 530.9 251.1 531.9 249.5 532.8 247.8 533.7 246.1 534.6 244.4 535.4 242.7 536.3 241.0 537.1 239.3 537.9 237.6 538.7 235.9 539.5 234.2 540.3 232.4 541.1 230.7 541.9 229.0 542.7 227.2 543.4 225.5 544.2 223.8 545.1 222.1 545.9 220.4 546.8 218.7 547.6 217.0 548.5 215.3 549.5 213.7 550.5 212.1 551.5 210.5 552.6 208.9 553.7 207.3 554.8 205.8 556.0 204.4 557.3 202.9 558.5 201.5 559.9 200.2 561.3 198.9 562.7 197.6 564.2 196.4 565.7 195.3 567.3 194.2 568.9 193.2 570.5 192.3 572.2 191.4 573.9 190.5 575.6 189.7 573.7 189.9 571.9 190.2 570.0 190.5 568.1 190.7 566.3 191.0 564.4 191.4 562.5 191.7 560.7 192.0 558.8 192.4 557.0 192.8 555.1 193.2 553.3 193.6 551.4 194.0 549.6 194.4 547.7 194.8 545.9 195.2 544.1 195.7 542.2 196.1 540.4 196.6 538.6 197.0 536.7 197.5 534.9 198.0 533.1 198.5 531.3 199.0 529.4 199.5 527.6 200.0 525.8 200.5 524.0 201.0 522.2 201.6 520.4 202.2 518.6 202.8 516.8 203.4 515.1 204.1 513.3 204.8 511.6 205.6 509.9 206.4 508.2 207.2 506.6 208.2 505.0 209.2 503.4 210.2 501.9 211.4 500.4 212.6 499.0 213.8 497.7 215.1 496.4 216.5 495.1 217.9 493.9 219.4 492.7 220.9 491.6 222.4 490.5 223.9 489.5 225.5 488.5 227.1 487.5 228.7 486.6 230.4 485.7 232.0 484.8 233.7 483.9 235.3 483.1 237.0 482.2 238.7 481.4 240.4 480.6 242.1 479.8 243.9 479.0 245.6 478.2 247.3 477.5 249.0 476.7 250.7 476.0 252.5 475.2 254.2 474.4 255.9 473.7 257.7 472.9 259.4 472.1 261.1 471.3 262.8 470.5 264.5 469.6 266.2 468.6 267.8 467.6 269.4 466.6 271.0 465.4 272.5 464.2 273.9 463.0 275.3 461.6 276.7 460.3 278.0 458.9 279.3 457.4 280.5 456.0 281.7 454.5 282.8 453.0 283.9 451.4 285.0 449.9 286.1 448.3 287.2 446.8 288.3 445.2 289.4 443.7 290.5 442.2 291.6 440.7 292.7 439.2 293.9 437.8 295.2 436.4 296.5Z" stroke="#0000ff"/>
<path d="M436.4 293.4 438.2 293.4 440.1 293.3 441.9 293.2 443.7 293.1 445.6 293.0 447.4 292.8 449.2 292.6 451.1 292.4 452.9 292.2 454.7 292.0 456.5 291.7 458.3 291.4 460.1 291.1 462.0 290.8 463.8 290.4 465.6 290.1 467.4 289.7 469.1 289.3 470.9 288.9 472.7 288.4 474.5 288.0 476.3 287.5 478.0 287.0 479.8 286.5 481.6 285.9 483.3 285.4 485.1 284.8 486.8 284.2 488.5 283.6 490.2 282.9 491.9 282.2 493.6 281.5 495.3 280.8 497.0 280.0 498.7 279.2 500.3 278.4 501.9 277.5 503.5 276.6 505.1 275.7 506.6 274.7 508.2 273.7 509.7 272.6 511.1 271.5 512.6 270.4 514.0 269.2 515.3 268.0 516.7 266.7 518.0 265.4 519.3 264.1 520.5 262.8 521.8 261.4 522.9 260.0 524.1 258.6 525.2 257.1 526.4 255.7 527.4 254.2 528.5 252.7 529.6 251.2 530.6 249.7 531.6 248.1 532.6 246.6 533.6 245.1 534.6 243.5 535.6 241.9 536.5 240.4 537.5 238.8 538.4 237.2 539.4 235.7 540.3 234.1 541.3 232.5 542.2 230.9 543.2 229.4 544.1 227.8 545.1 226.3 546.1 224.7 547.1 223.1 548.1 221.6 549.1 220.1 550.1 218.5 551.1 217.0 552.2 215.5 553.2 214.0 554.3 212.5 555.4 211.0 556.5 209.6 557.7 208.1 558.8 206.7 560.0 205.3 561.3 204.0 562.5 202.6 563.8 201.3 565.2 200.1 566.5 198.9 568.0 197.7 569.4 196.6 570.9 195.5 572.4 194.5 574.0 193.5 575.6 192.6 573.8 192.9 572.0 193.2 570.2 193.6 568.3 193.9 566.5 194.2 564.7 194.6 562.9 194.9 561.1 195.3 559.3 195.7 557.5 196.1 555.7 196.4 553.9 196.8 552.1 197.2 550.3 197.6 548.5 198.0 546.7 198.4 544.9 198.9 543.2 199.3 541.4 199.7 539.6 200.1 537.8 200.5 536.0 201.0 534.2 201.4 532.4 201.8 530.6 202.3 528.8 202.7 527.1 203.2 525.3 203.6 523.5 204.1 521.7 204.6 520.0 205.1 518.2 205.7 516.5 206.3 514.7 206.9 513.0 207.6 511.3 208.3 509.7 209.1 508.0 209.9 506.4 210.9 504.9 211.9 503.4 212.9 502.0 214.1 500.6 215.3 499.2 216.6 498.0 217.9 496.7 219.2 495.5 220.6 494.3 222.0 493.1 223.4 491.9 224.8 490.7 226.2 489.5 227.6 488.2 228.9 487.0 230.3 485.8 231.7 484.6 233.1 483.6 234.6 482.5 236.2 481.6 237.8 480.8 239.4 480.1 241.1 479.5 242.8 478.9 244.6 478.3 246.3 477.7 248.1 477.0 249.8 476.3 251.5 475.5 253.1 474.6 254.7 473.5 256.2 472.5 257.7 471.5 259.3 470.6 260.9 469.8 262.5 468.9 264.2 468.0 265.8 467.0 267.3 465.9 268.8 464.7 270.2 463.5 271.6 462.2 272.8 460.8 274.1 459.4 275.2 457.9 276.4 456.4 277.4 454.9 278.5 453.4 279.5 451.8 280.5 450.3 281.5 448.7 282.5 447.2 283.5 445.7 284.6 444.2 285.6 442.8 286.8 441.4 288.0 440.0 289.2 438.7 290.6 437.5 292.0 436.4 293.4Z" stroke="#ff00ff"/>
<path d="M436.4 290.6 438.2 290.4 439.9 290.2 441.7 290.0 443.5 289.7 445.2 289.5 447.0 289.2 448.8 289.0 450.5 288.7 452.3 288.5 454.1 288.2 455.8 287.9 457.6 287.7 459.3 287.4 461.1 287.1 462.8 286.8 464.6 286.5 466.4 286.1 468.1 285.8 469.8 285.5 471.6 285.1 473.3 284.7 475.1 284.3 476.8 283.9 478.5 283.5 480.3 283.1 482.0 282.6 483.7 282.1 485.4 281.6 487.1 281.1 488.8 280.5 490.5 279.9 492.2 279.3 493.8 278.7 495.5 278.0 497.1 277.3 498.7 276.6 500.3 275.8 501.9 275.0 503.5 274.1 505.0 273.3 506.6 272.3 508.1 271.4 509.6 270.4 511.0 269.4 512.4 268.3 513.8 267.2 515.2 266.1 516.6 264.9 517.9 263.7 519.2 262.5 520.4 261.2 521.7 259.9 522.9 258.6 524.1 257.3 525.3 256.0 526.4 254.6 527.5 253.2 528.6 251.8 529.7 250.4 530.8 249.0 531.8 247.5 532.8 246.1 533.9 244.6 534.9 243.1 535.9 241.7 536.9 240.2 537.8 238.7 538.8 237.2 539.8 235.7 540.7 234.2 541.7 232.7 542.6 231.2 543.6 229.7 544.6 228.2 545.5 226.7 546.5 225.2 547.5 223.7 548.5 222.2 549.5 220.8 550.5 219.3 551.6 217.9 552.6 216.4 553.7 215.0 554.8 213.6 555.9 212.2 557.1 210.9 558.3 209.6 559.5 208.3 560.8 207.0 562.1 205.8 563.4 204.7 564.8 203.5 566.3 202.5 567.7 201.5 569.2 200.5 570.8 199.6 572.4 198.8 574.0 198.0 575.6 197.3 573.8 197.5 572.0 197.7 570.3 197.9 568.5 198.2 566.7 198.4 564.9 198.7 563.2 199.0 561.4 199.2 559.6 199.5 557.9 199.8 556.1 200.2 554.3 200.5 552.6 200.8 550.8 201.2 549.1 201.5 547.3 201.9 545.6 202.2 543.8 202.6 542.1 203.0 540.3 203.4 538.6 203.8 536.8 204.2 535.1 204.7 533.4 205.1 531.6 205.5 529.9 206.0 528.2 206.5 526.5 207.0 524.7 207.5 523.0 208.0 521.3 208.5 519.6 209.1 517.9 209.7 516.2 210.3 514.6 211.0 512.9 211.7 511.3 212.4 509.7 213.2 508.1 214.0 506.5 214.9 505.0 215.8 503.5 216.8 502.0 217.8 500.6 218.9 499.2 220.0 497.9 221.2 496.5 222.4 495.3 223.6 494.0 224.9 492.7 226.2 491.4 227.4 490.1 228.6 488.8 229.9 487.5 231.1 486.2 232.3 484.9 233.6 483.7 234.9 482.6 236.3 481.7 237.8 480.9 239.4 480.2 241.1 479.6 242.8 479.1 244.5 478.6 246.2 478.0 247.9 477.4 249.6 476.6 251.2 475.7 252.8 474.6 254.2 473.4 255.5 472.0 256.7 470.9 258.1 470.1 259.6 469.4 261.3 468.8 263.0 468.1 264.6 467.2 266.2 466.1 267.5 464.8 268.8 463.4 269.9 462.0 271.0 460.5 272.1 459.1 273.2 457.7 274.3 456.3 275.4 454.9 276.5 453.4 277.6 452.0 278.6 450.6 279.7 449.2 280.8 447.8 281.9 446.3 283.0 444.9 284.1 443.5 285.2 442.1 286.3 440.6 287.3 439.2 288.4 437.8 289.5 436.4 290.6Z" stroke="#000080"/>
<path d="M436.4 287.3 438.1 287.1 439.9 286.9 441.6 286.8 443.3 286.6 445.0 286.4 446.7 286.1 448.5 285.9 450.2 285.7 451.9 285.5 453.6 285.2 455.3 285.0 457.1 284.7 458.8 284.5 460.5 284.2 462.2 283.9 463.9 283.6 465.6 283.3 467.3 283.0 469.0 282.7 470.7 282.4 472.4 282.0 474.1 281.6 475.8 281.2 477.5 280.8 479.2 280.4 480.9 280.0 482.6 279.5 484.2 279.0 485.9 278.5 487.5 278.0 489.2 277.5 490.8 276.9 492.4 276.3 494.1 275.6 495.7 275.0 497.3 274.3 498.8 273.6 500.4 272.8 502.0 272.1 503.5 271.2 505.0 270.4 506.5 269.5 508.0 268.6 509.4 267.7 510.9 266.7 512.3 265.7 513.7 264.7 515.1 263.6 516.4 262.5 517.8 261.4 519.1 260.3 520.4 259.1 521.6 257.9 522.9 256.7 524.1 255.5 525.3 254.2 526.5 252.9 527.6 251.7 528.8 250.3 529.9 249.0 531.0 247.7 532.1 246.3 533.2 245.0 534.2 243.6 535.3 242.2 536.3 240.8 537.4 239.5 538.4 238.1 539.4 236.7 540.4 235.2 541.4 233.8 542.4 232.4 543.5 231.0 544.5 229.6 545.5 228.2 546.5 226.8 547.5 225.4 548.6 224.0 549.6 222.6 550.7 221.2 551.7 219.9 552.8 218.5 553.9 217.2 555.0 215.8 556.2 214.5 557.4 213.3 558.6 212.0 559.8 210.8 561.0 209.6 562.3 208.4 563.7 207.3 565.1 206.3 566.5 205.2 567.9 204.3 569.4 203.4 570.9 202.5 572.4 201.7 574.0 201.0 575.6 200.3 573.9 200.6 572.1 200.8 570.4 201.1 568.7 201.4 567.0 201.7 565.2 202.0 563.5 202.3 561.8 202.6 560.1 202.9 558.3 203.2 556.6 203.5 554.9 203.8 553.2 204.1 551.5 204.4 549.7 204.8 548.0 205.1 546.3 205.5 544.6 205.8 542.9 206.2 541.2 206.5 539.5 206.9 537.7 207.3 536.0 207.7 534.3 208.1 532.6 208.5 530.9 208.9 529.2 209.4 527.6 209.8 525.9 210.3 524.2 210.8 522.5 211.3 520.9 211.9 519.2 212.4 517.6 213.0 515.9 213.6 514.3 214.3 512.7 215.0 511.1 215.7 509.5 216.5 508.0 217.3 506.4 218.1 504.9 219.0 503.4 219.9 502.0 220.9 500.5 221.9 499.2 223.0 497.8 224.1 496.5 225.2 495.2 226.4 493.9 227.6 492.7 228.8 491.4 230.0 490.1 231.3 488.9 232.4 487.5 233.6 486.2 234.7 484.8 235.8 483.4 236.8 482.0 237.9 480.9 239.2 480.0 240.7 479.3 242.4 478.8 244.0 478.3 245.7 477.8 247.4 477.3 249.0 476.7 250.7 475.9 252.2 474.8 253.6 473.5 254.8 472.1 255.8 470.6 256.8 469.5 258.1 468.9 259.7 468.4 261.4 467.9 263.1 467.3 264.7 466.4 266.2 465.2 267.5 463.8 268.6 462.4 269.6 460.9 270.5 459.5 271.5 458.0 272.5 456.6 273.5 455.2 274.6 453.8 275.6 452.4 276.7 451.0 277.7 449.6 278.8 448.2 279.8 446.8 280.9 445.4 281.9 443.9 282.8 442.4 283.8 441.0 284.7 439.5 285.6 437.9 286.5 436.4 287.3Z" stroke="#008080"/>
</g>
<rect x="435.1" y="172.5" width="46.299999999999955" height="63.900000000000006" fill="#fff" stroke="#808080" stroke-width="0.9"/>
<line x1="435.7" x2="455.9" y1="178.5" y2="178.5" stroke="#000000" stroke-width="1.1"/>
<text x="458.30" y="181.96" font-size="8.66" text-anchor="start" >313 K</text>
<line x1="435.7" x2="455.9" y1="189.1" y2="189.1" stroke="#ff0000" stroke-width="1.1"/>
<text x="458.30" y="192.56" font-size="8.66" text-anchor="start" >323 K</text>
<line x1="435.7" x2="455.9" y1="199.7" y2="199.7" stroke="#0000ff" stroke-width="1.1"/>
<text x="458.30" y="203.16" font-size="8.66" text-anchor="start" >333 K</text>
<line x1="435.7" x2="455.9" y1="210.3" y2="210.3" stroke="#ff00ff" stroke-width="1.1"/>
<text x="458.30" y="213.76" font-size="8.66" text-anchor="start" >343 K</text>
<line x1="435.7" x2="455.9" y1="220.9" y2="220.9" stroke="#000080" stroke-width="1.1"/>
<text x="458.30" y="224.36" font-size="8.66" text-anchor="start" >353 K</text>
<line x1="435.7" x2="455.9" y1="231.5" y2="231.5" stroke="#008080" stroke-width="1.1"/>
<text x="458.30" y="234.96" font-size="8.66" text-anchor="start" >373 K</text>
<rect x="433.3" y="171.7" width="145.8" height="144.2" fill="none" stroke="#2a2a2a" stroke-width="1.3"/>
<path d="M436.40 315.9 v-4 M471.20 315.9 v-4 M506.00 315.9 v-4 M540.80 315.9 v-4 M575.60 315.9 v-4 M453.80 315.9 v-2.3 M488.60 315.9 v-2.3 M523.40 315.9 v-2.3 M558.20 315.9 v-2.3 M433.3 188.80 h4 M433.3 216.47 h4 M433.3 244.15 h4 M433.3 271.82 h4 M433.3 299.50 h4 M433.3 174.96 h2.3 M433.3 202.64 h2.3 M433.3 230.31 h2.3 M433.3 257.99 h2.3 M433.3 285.66 h2.3 M433.3 313.34 h2.3" stroke="#111" stroke-width="1.1" fill="none"/>
<text x="436.40" y="327.70" font-size="10.3" text-anchor="middle" >-40</text>
<text x="471.20" y="327.70" font-size="10.3" text-anchor="middle" >-20</text>
<text x="506.00" y="327.70" font-size="10.3" text-anchor="middle" >0</text>
<text x="540.80" y="327.70" font-size="10.3" text-anchor="middle" >20</text>
<text x="575.60" y="327.70" font-size="10.3" text-anchor="middle" >40</text>
<text x="429.00" y="192.30" font-size="10.3" text-anchor="end" >10</text>
<text x="429.00" y="219.97" font-size="10.3" text-anchor="end" >5</text>
<text x="429.00" y="247.65" font-size="10.3" text-anchor="end" >0</text>
<text x="429.00" y="275.32" font-size="10.3" text-anchor="end" >-5</text>
<text x="429.00" y="303.00" font-size="10.3" text-anchor="end" >-10</text>
<text x="407.2" y="170.2" font-size="22.4">t<tspan font-size="13.5" dy="7.3">3</tspan></text>
<text x="482.90" y="182.40" font-size="12.6" text-anchor="start" >x = 0.045</text>
<text x="524.70" y="293.90" font-size="8.8" text-anchor="start" >E = 40 kV/cm,</text>
<text x="524.70" y="303.30" font-size="8.8" text-anchor="start" >f = 50 Hz</text>
<clipPath id="ct4"><rect x="610.9" y="172.8" width="147.30000000000007" height="144.09999999999997"/></clipPath>
<g clip-path="url(#ct4)" fill="none" stroke-width="1.2" stroke-linejoin="round">
<path d="M613.9 313.3 615.8 312.7 617.8 312.1 619.8 311.6 621.8 311.1 623.8 310.7 625.8 310.3 627.8 309.8 629.8 309.4 631.8 309.0 633.8 308.5 635.8 308.0 637.8 307.4 639.7 306.8 641.6 306.1 643.5 305.3 645.4 304.4 647.2 303.4 648.9 302.3 650.5 301.1 652.1 299.8 653.6 298.4 655.1 296.9 656.5 295.5 657.9 294.0 659.3 292.5 660.7 291.0 662.1 289.5 663.6 288.1 665.1 286.7 666.7 285.4 668.3 284.1 669.9 282.8 671.5 281.6 673.1 280.3 674.7 279.0 676.3 277.7 677.9 276.4 679.4 275.0 680.9 273.7 682.4 272.3 683.9 270.8 685.3 269.4 686.8 267.9 688.2 266.4 689.6 264.9 690.9 263.4 692.3 261.8 693.6 260.3 694.9 258.7 696.2 257.1 697.4 255.5 698.6 253.8 699.9 252.2 701.0 250.5 702.1 248.8 703.2 247.0 704.2 245.2 705.1 243.4 706.0 241.5 706.8 239.7 707.8 237.8 708.7 236.0 709.6 234.2 710.5 232.3 711.4 230.5 712.3 228.7 713.3 226.8 714.2 225.0 715.2 223.2 716.1 221.4 717.1 219.6 718.1 217.8 719.1 216.0 720.1 214.3 721.2 212.5 722.3 210.8 723.4 209.1 724.6 207.4 725.7 205.7 727.0 204.0 728.2 202.4 729.5 200.8 730.7 199.2 732.1 197.6 733.4 196.1 734.8 194.5 736.2 193.1 737.6 191.6 739.1 190.2 740.6 188.8 742.1 187.4 743.7 186.1 745.3 184.9 747.0 183.7 748.7 182.5 750.4 181.4 752.2 180.4 754.0 179.3 755.8 178.4 753.7 178.9 751.7 179.4 749.7 180.0 747.8 180.6 745.8 181.3 743.9 182.1 741.9 182.8 740.0 183.6 738.1 184.4 736.2 185.3 734.3 186.2 732.4 187.1 730.6 188.0 728.7 188.9 726.8 189.8 725.0 190.7 723.1 191.6 721.3 192.6 719.4 193.5 717.5 194.4 715.7 195.3 713.8 196.2 711.9 197.1 710.0 197.9 708.1 198.8 706.3 199.7 704.4 200.7 702.6 201.7 700.8 202.7 699.1 203.9 697.5 205.2 695.9 206.6 694.5 208.1 693.1 209.6 691.5 211.0 689.8 212.1 687.9 212.9 685.9 213.6 684.0 214.5 682.5 215.8 681.3 217.5 680.2 219.3 679.2 221.1 678.0 222.8 676.7 224.5 675.4 226.0 674.0 227.6 672.7 229.2 671.5 230.9 670.4 232.7 669.4 234.5 668.5 236.4 667.6 238.2 666.7 240.1 665.8 242.0 664.9 243.9 663.9 245.7 663.0 247.5 662.0 249.4 661.0 251.2 660.0 253.0 659.1 254.9 658.1 256.7 657.2 258.6 656.2 260.4 655.1 262.1 654.0 263.9 653.1 265.8 652.4 267.7 651.8 269.7 651.3 271.7 650.8 273.8 650.3 275.8 649.7 277.8 649.1 279.8 648.4 281.7 647.5 283.6 646.6 285.5 645.6 287.3 644.5 289.0 643.3 290.8 642.1 292.4 640.8 294.0 639.4 295.6 637.9 297.1 636.4 298.5 634.9 299.9 633.2 301.2 631.6 302.4 629.9 303.6 628.1 304.7 626.3 305.8 624.5 306.8 622.7 307.9 620.9 308.9 619.1 310.0 617.4 311.0 615.6 312.1 613.9 313.3Z" stroke="#000000"/>
<path d="M613.9 299.8 615.3 298.6 616.8 297.5 618.5 296.8 620.3 296.2 622.1 295.9 623.9 295.6 625.8 295.5 627.6 295.4 629.5 295.3 631.3 295.2 633.2 295.0 635.0 294.8 636.8 294.4 638.6 294.0 640.4 293.4 642.1 292.8 643.8 292.0 645.5 291.1 647.0 290.1 648.5 288.9 649.9 287.7 651.1 286.4 652.4 285.0 653.6 283.6 654.9 282.3 656.2 281.0 657.7 279.8 659.2 278.8 660.9 277.9 662.6 277.2 664.3 276.4 666.0 275.7 667.6 274.9 669.3 274.1 670.9 273.2 672.5 272.2 674.1 271.2 675.6 270.1 677.1 269.0 678.5 267.9 680.0 266.7 681.4 265.5 682.8 264.3 684.2 263.1 685.6 261.9 686.9 260.6 688.3 259.3 689.7 258.1 691.1 256.8 692.4 255.6 693.8 254.3 695.1 253.0 696.4 251.8 697.7 250.4 699.0 249.1 700.3 247.7 701.5 246.3 702.6 244.8 703.8 243.4 704.9 241.9 706.0 240.4 707.1 238.9 708.2 237.4 709.3 235.9 710.4 234.4 711.5 232.9 712.6 231.4 713.7 229.9 714.8 228.4 715.9 227.0 717.0 225.5 718.1 224.0 719.2 222.5 720.4 221.0 721.5 219.6 722.7 218.1 723.8 216.7 725.0 215.3 726.2 213.8 727.4 212.4 728.6 211.1 729.9 209.7 731.2 208.3 732.5 207.0 733.8 205.7 735.2 204.5 736.6 203.2 738.0 202.1 739.4 200.9 740.9 199.8 742.5 198.8 744.0 197.8 745.6 196.8 747.2 195.9 748.9 195.0 750.5 194.2 752.2 193.4 753.9 192.6 755.6 191.9 753.8 192.4 752.1 193.0 750.3 193.6 748.6 194.2 746.8 194.8 745.1 195.4 743.4 196.0 741.6 196.7 739.9 197.3 738.2 198.0 736.5 198.6 734.7 199.3 733.0 200.0 731.3 200.7 729.6 201.4 727.9 202.1 726.2 202.9 724.5 203.6 722.9 204.4 721.2 205.1 719.5 205.9 717.8 206.7 716.2 207.5 714.5 208.3 712.9 209.1 711.2 210.0 709.6 210.8 708.0 211.7 706.4 212.6 704.7 213.5 703.1 214.4 701.5 215.3 700.0 216.3 698.4 217.2 696.8 218.2 695.3 219.2 693.7 220.2 692.2 221.3 690.7 222.3 689.2 223.4 687.7 224.5 686.2 225.6 684.8 226.7 683.3 227.9 681.9 229.0 680.5 230.2 679.1 231.4 677.7 232.7 676.4 233.9 675.0 235.2 673.7 236.5 672.4 237.8 671.2 239.2 669.9 240.5 668.7 241.9 667.5 243.3 666.3 244.7 665.2 246.2 664.0 247.6 662.9 249.1 661.9 250.6 660.8 252.1 659.7 253.6 658.7 255.1 657.7 256.7 656.7 258.2 655.7 259.8 654.8 261.4 653.8 262.9 652.8 264.5 651.9 266.1 650.9 267.6 649.9 269.2 648.9 270.8 647.9 272.3 646.8 273.8 645.7 275.3 644.6 276.8 643.5 278.2 642.2 279.6 641.0 280.9 639.7 282.3 638.4 283.6 637.1 284.8 635.7 286.1 634.3 287.2 632.8 288.4 631.3 289.5 629.8 290.5 628.3 291.5 626.7 292.5 625.1 293.5 623.6 294.4 621.9 295.3 620.3 296.2 618.7 297.1 617.1 298.0 615.5 298.9 613.9 299.8Z" stroke="#ff0000"/>
<path d="M613.9 290.5 615.6 290.3 617.3 290.0 619.0 289.8 620.7 289.5 622.4 289.2 624.1 288.8 625.7 288.4 627.4 288.0 629.1 287.6 630.7 287.1 632.3 286.6 634.0 286.0 635.6 285.4 637.2 284.8 638.8 284.2 640.3 283.5 641.9 282.8 643.5 282.0 645.0 281.3 646.5 280.5 648.0 279.6 649.5 278.7 650.9 277.8 652.4 276.9 653.8 276.0 655.3 275.0 656.7 274.1 658.1 273.2 659.6 272.3 661.1 271.4 662.5 270.5 664.0 269.7 665.5 268.8 667.0 268.0 668.6 267.2 670.1 266.4 671.6 265.6 673.1 264.9 674.7 264.1 676.2 263.3 677.7 262.5 679.2 261.6 680.7 260.7 682.1 259.8 683.6 258.9 685.0 257.9 686.4 257.0 687.8 255.9 689.1 254.9 690.5 253.8 691.8 252.7 693.1 251.6 694.4 250.5 695.7 249.3 696.9 248.2 698.2 247.0 699.4 245.8 700.7 244.6 701.9 243.4 703.1 242.2 704.4 241.0 705.6 239.9 706.8 238.7 708.1 237.5 709.3 236.3 710.6 235.1 711.8 234.0 713.1 232.8 714.4 231.7 715.7 230.5 717.0 229.4 718.3 228.3 719.6 227.2 720.9 226.1 722.3 225.1 723.6 224.0 725.0 223.0 726.4 221.9 727.8 220.9 729.2 219.9 730.6 218.9 732.0 218.0 733.4 217.0 734.8 216.1 736.3 215.1 737.7 214.2 739.2 213.3 740.6 212.3 742.0 211.4 743.5 210.4 744.9 209.5 746.3 208.5 747.7 207.5 749.1 206.5 750.4 205.4 751.7 204.3 753.1 203.2 754.3 202.1 755.6 200.9 753.9 201.4 752.3 202.0 750.6 202.5 749.0 203.0 747.3 203.5 745.7 204.1 744.0 204.6 742.4 205.1 740.7 205.6 739.1 206.2 737.4 206.7 735.8 207.2 734.1 207.8 732.5 208.3 730.9 208.9 729.2 209.4 727.6 210.0 725.9 210.6 724.3 211.1 722.7 211.7 721.0 212.3 719.4 212.9 717.8 213.5 716.2 214.1 714.6 214.8 713.0 215.4 711.4 216.1 709.8 216.7 708.2 217.4 706.6 218.1 705.0 218.9 703.5 219.6 701.9 220.4 700.3 221.1 698.8 221.9 697.3 222.7 695.8 223.6 694.3 224.4 692.8 225.3 691.3 226.2 689.8 227.2 688.4 228.1 687.0 229.1 685.6 230.1 684.2 231.2 682.8 232.2 681.5 233.3 680.2 234.4 678.8 235.6 677.5 236.7 676.2 237.9 674.9 239.0 673.6 240.1 672.3 241.3 671.0 242.4 669.7 243.6 668.4 244.7 667.1 245.9 665.9 247.1 664.6 248.3 663.5 249.5 662.4 250.9 661.3 252.2 660.3 253.7 659.3 255.1 658.3 256.5 657.3 257.9 656.3 259.3 655.3 260.7 654.2 262.1 653.2 263.5 652.1 264.8 651.0 266.2 649.9 267.5 648.7 268.8 647.6 270.1 646.4 271.3 645.2 272.6 644.0 273.8 642.7 275.0 641.4 276.1 640.1 277.2 638.7 278.3 637.3 279.3 635.9 280.3 634.4 281.2 632.9 282.1 631.4 282.9 629.8 283.7 628.3 284.5 626.7 285.2 625.1 285.9 623.5 286.5 621.9 287.2 620.3 287.9 618.7 288.5 617.1 289.2 615.5 289.8 613.9 290.5Z" stroke="#0000ff"/>
<path d="M613.9 286.2 615.5 285.7 617.1 285.3 618.7 284.9 620.4 284.5 622.0 284.1 623.6 283.8 625.3 283.5 626.9 283.2 628.6 282.9 630.2 282.7 631.9 282.3 633.5 282.0 635.1 281.6 636.7 281.2 638.4 280.8 640.0 280.3 641.5 279.8 643.1 279.2 644.6 278.5 646.1 277.8 647.6 276.9 649.0 276.0 650.3 275.1 651.6 274.0 652.9 272.9 654.2 271.8 655.4 270.7 656.7 269.7 658.0 268.6 659.4 267.7 660.8 266.8 662.3 265.9 663.7 265.1 665.2 264.4 666.7 263.7 668.2 263.0 669.8 262.3 671.3 261.6 672.8 260.9 674.4 260.3 675.9 259.6 677.4 258.9 678.9 258.2 680.4 257.4 681.9 256.7 683.4 255.9 684.8 255.0 686.2 254.2 687.7 253.3 689.1 252.4 690.4 251.4 691.8 250.5 693.2 249.5 694.5 248.5 695.8 247.5 697.2 246.5 698.5 245.4 699.8 244.4 701.1 243.3 702.4 242.3 703.6 241.2 704.9 240.1 706.2 239.0 707.5 237.9 708.7 236.8 710.0 235.7 711.3 234.6 712.5 233.6 713.8 232.5 715.1 231.4 716.3 230.3 717.6 229.2 718.9 228.2 720.2 227.1 721.5 226.1 722.9 225.1 724.2 224.1 725.5 223.1 726.9 222.1 728.3 221.1 729.6 220.2 731.0 219.3 732.5 218.4 733.9 217.5 735.3 216.7 736.8 215.9 738.2 215.1 739.7 214.3 741.2 213.5 742.6 212.7 744.1 211.9 745.6 211.1 747.0 210.2 748.5 209.4 749.9 208.6 751.4 207.7 752.8 206.8 754.2 205.9 755.6 205.0 753.9 205.3 752.3 205.7 750.7 206.0 749.0 206.4 747.4 206.8 745.8 207.2 744.2 207.7 742.6 208.1 740.9 208.6 739.3 209.1 737.7 209.6 736.1 210.1 734.6 210.6 733.0 211.2 731.4 211.7 729.8 212.3 728.2 212.8 726.7 213.4 725.1 214.0 723.5 214.6 721.9 215.1 720.4 215.7 718.8 216.3 717.3 217.0 715.7 217.6 714.1 218.2 712.6 218.8 711.0 219.4 709.5 220.1 707.9 220.7 706.4 221.4 704.8 222.0 703.3 222.7 701.8 223.4 700.3 224.1 698.8 224.8 697.3 225.6 695.8 226.4 694.3 227.2 692.8 228.0 691.4 228.8 690.0 229.7 688.6 230.6 687.2 231.6 685.8 232.5 684.5 233.5 683.1 234.6 681.8 235.6 680.6 236.7 679.3 237.8 678.0 238.9 676.7 239.9 675.5 241.0 674.2 242.1 672.9 243.2 671.6 244.2 670.2 245.2 668.9 246.3 667.6 247.3 666.3 248.3 665.0 249.4 663.7 250.5 662.5 251.7 661.4 252.9 660.3 254.1 659.2 255.4 658.1 256.7 657.0 257.9 655.9 259.2 654.7 260.4 653.6 261.6 652.4 262.8 651.2 264.0 650.0 265.1 648.7 266.2 647.4 267.3 646.1 268.3 644.7 269.3 643.3 270.2 641.9 271.1 640.5 272.0 639.0 272.9 637.6 273.7 636.1 274.5 634.6 275.3 633.2 276.1 631.7 276.8 630.2 277.6 628.7 278.3 627.2 279.0 625.7 279.8 624.1 280.5 622.7 281.3 621.2 282.0 619.7 282.8 618.2 283.6 616.8 284.5 615.3 285.3 613.9 286.2Z" stroke="#ff00ff"/>
<path d="M613.9 279.8 615.5 279.6 617.1 279.4 618.7 279.2 620.3 279.0 621.9 278.8 623.5 278.6 625.1 278.4 626.8 278.2 628.4 277.9 630.0 277.7 631.5 277.4 633.1 277.1 634.7 276.7 636.3 276.3 637.8 275.9 639.4 275.4 640.9 274.9 642.4 274.3 643.9 273.7 645.4 273.0 646.8 272.3 648.3 271.5 649.6 270.6 651.0 269.7 652.3 268.8 653.6 267.8 654.9 266.8 656.2 265.8 657.5 264.9 658.8 264.0 660.2 263.2 661.7 262.4 663.1 261.7 664.5 261.0 666.0 260.3 667.5 259.6 669.0 259.0 670.5 258.4 672.0 257.8 673.5 257.2 675.0 256.5 676.5 255.9 678.0 255.3 679.5 254.6 680.9 254.0 682.4 253.3 683.8 252.6 685.3 251.8 686.7 251.1 688.1 250.3 689.5 249.5 690.9 248.6 692.3 247.8 693.7 246.9 695.0 246.1 696.4 245.2 697.7 244.3 699.1 243.3 700.4 242.4 701.7 241.5 703.0 240.5 704.3 239.5 705.6 238.5 706.9 237.5 708.1 236.5 709.4 235.5 710.7 234.5 711.9 233.5 713.2 232.5 714.4 231.4 715.7 230.4 716.9 229.4 718.2 228.4 719.5 227.4 720.7 226.3 722.0 225.3 723.3 224.3 724.6 223.4 725.9 222.4 727.2 221.5 728.5 220.5 729.9 219.6 731.2 218.8 732.6 217.9 734.0 217.1 735.5 216.4 736.9 215.6 738.4 215.0 739.9 214.3 741.4 213.8 742.9 213.2 744.4 212.7 746.0 212.3 747.6 211.9 749.2 211.6 750.8 211.3 752.4 211.1 754.0 210.9 755.6 210.7 754.0 211.1 752.4 211.4 750.9 211.8 749.3 212.2 747.7 212.6 746.2 212.9 744.6 213.3 743.0 213.7 741.5 214.1 739.9 214.5 738.3 214.9 736.8 215.2 735.2 215.6 733.6 216.0 732.1 216.4 730.5 216.8 728.9 217.2 727.4 217.6 725.8 218.1 724.3 218.5 722.7 218.9 721.1 219.4 719.6 219.8 718.1 220.3 716.5 220.7 715.0 221.2 713.4 221.7 711.9 222.2 710.4 222.7 708.9 223.3 707.3 223.8 705.8 224.4 704.3 225.0 702.8 225.7 701.4 226.3 699.9 227.0 698.4 227.7 697.0 228.4 695.6 229.1 694.2 229.9 692.8 230.7 691.4 231.5 690.0 232.4 688.6 233.3 687.3 234.2 686.0 235.1 684.7 236.0 683.4 237.0 682.1 238.0 680.8 238.9 679.5 239.9 678.3 241.0 677.0 242.0 675.8 243.0 674.5 244.0 673.3 245.1 672.1 246.1 670.8 247.2 669.6 248.2 668.4 249.2 667.1 250.3 665.9 251.3 664.7 252.3 663.4 253.4 662.1 254.4 660.9 255.4 659.6 256.4 658.3 257.3 657.0 258.3 655.7 259.3 654.4 260.2 653.1 261.1 651.8 262.0 650.4 262.9 649.0 263.8 647.7 264.6 646.3 265.5 644.9 266.3 643.5 267.1 642.1 267.9 640.7 268.7 639.2 269.4 637.8 270.1 636.4 270.9 634.9 271.6 633.4 272.2 632.0 272.9 630.5 273.5 629.0 274.2 627.5 274.8 626.0 275.4 624.5 276.0 623.0 276.6 621.5 277.2 620.0 277.7 618.5 278.3 617.0 278.8 615.4 279.3 613.9 279.8Z" stroke="#000080"/>
<path d="M613.9 276.8 615.4 276.3 617.0 275.9 618.6 275.6 620.2 275.3 621.8 275.1 623.4 274.9 625.0 274.7 626.6 274.6 628.2 274.5 629.8 274.3 631.4 274.2 633.0 274.0 634.6 273.9 636.2 273.6 637.8 273.4 639.4 273.1 640.9 272.7 642.5 272.2 644.0 271.7 645.5 271.0 646.9 270.3 648.3 269.5 649.6 268.5 650.9 267.5 652.1 266.4 653.2 265.4 654.4 264.3 655.6 263.2 656.9 262.2 658.2 261.3 659.6 260.4 661.0 259.7 662.5 259.0 664.0 258.4 665.5 257.9 667.0 257.3 668.5 256.8 670.0 256.2 671.6 255.7 673.1 255.1 674.6 254.6 676.1 254.0 677.6 253.4 679.1 252.9 680.6 252.3 682.1 251.7 683.6 251.1 685.1 250.5 686.6 249.8 688.1 249.2 689.5 248.5 691.0 247.8 692.4 247.1 693.9 246.4 695.3 245.7 696.7 244.9 698.1 244.1 699.5 243.2 700.8 242.3 702.2 241.4 703.5 240.5 704.7 239.5 706.0 238.5 707.2 237.4 708.3 236.3 709.5 235.1 710.6 233.9 711.6 232.7 712.7 231.5 713.7 230.3 714.8 229.1 715.9 227.9 717.1 226.8 718.3 225.7 719.5 224.7 720.8 223.7 722.1 222.8 723.5 221.9 724.9 221.1 726.3 220.4 727.8 219.7 729.3 219.2 730.8 218.6 732.4 218.2 733.9 217.8 735.5 217.4 737.0 216.9 738.6 216.5 740.1 216.0 741.6 215.5 743.1 214.9 744.6 214.3 746.1 213.7 747.7 213.1 749.2 212.7 750.8 212.4 752.4 212.2 754.0 212.3 755.6 212.6 754.0 212.9 752.5 213.2 750.9 213.5 749.3 213.9 747.8 214.2 746.2 214.5 744.7 214.9 743.1 215.2 741.6 215.6 740.0 215.9 738.5 216.3 736.9 216.7 735.4 217.1 733.9 217.5 732.3 217.9 730.8 218.3 729.2 218.7 727.7 219.1 726.2 219.5 724.6 220.0 723.1 220.4 721.6 220.9 720.1 221.4 718.6 221.8 717.1 222.3 715.5 222.8 714.0 223.3 712.5 223.9 711.1 224.4 709.6 225.0 708.1 225.6 706.6 226.2 705.2 226.8 703.7 227.5 702.3 228.2 700.8 228.9 699.4 229.6 698.0 230.3 696.6 231.1 695.2 231.9 693.9 232.7 692.5 233.5 691.2 234.3 689.8 235.2 688.5 236.0 687.1 236.9 685.8 237.8 684.5 238.6 683.1 239.5 681.8 240.4 680.5 241.3 679.2 242.2 677.9 243.1 676.6 244.0 675.3 244.9 674.0 245.9 672.8 246.9 671.5 247.9 670.3 248.9 669.1 249.9 667.9 251.0 666.7 252.1 665.5 253.1 664.3 254.1 663.1 255.1 661.8 256.0 660.5 256.9 659.1 257.7 657.7 258.5 656.3 259.1 654.8 259.7 653.3 260.3 651.8 260.9 650.3 261.5 648.9 262.1 647.4 262.7 645.9 263.3 644.5 264.0 643.1 264.7 641.6 265.3 640.2 266.0 638.7 266.6 637.2 267.2 635.8 267.8 634.3 268.4 632.8 268.9 631.2 269.3 629.7 269.8 628.2 270.2 626.6 270.6 625.1 271.1 623.6 271.5 622.1 272.0 620.6 272.6 619.2 273.3 617.8 274.0 616.4 274.9 615.1 275.8 613.9 276.8Z" stroke="#008080"/>
</g>
<rect x="616.2" y="173.6" width="46.799999999999955" height="64.5" fill="#fff" stroke="#808080" stroke-width="0.9"/>
<line x1="616.8" x2="637.6" y1="179.7" y2="179.7" stroke="#000000" stroke-width="1.1"/>
<text x="639.70" y="183.20" font-size="8.8" text-anchor="start" >303 K</text>
<line x1="616.8" x2="637.6" y1="190.35" y2="190.35" stroke="#ff0000" stroke-width="1.1"/>
<text x="639.70" y="193.85" font-size="8.8" text-anchor="start" >313 K</text>
<line x1="616.8" x2="637.6" y1="201.0" y2="201.0" stroke="#0000ff" stroke-width="1.1"/>
<text x="639.70" y="204.50" font-size="8.8" text-anchor="start" >323 K</text>
<line x1="616.8" x2="637.6" y1="211.64999999999998" y2="211.64999999999998" stroke="#ff00ff" stroke-width="1.1"/>
<text x="639.70" y="215.15" font-size="8.8" text-anchor="start" >333 K</text>
<line x1="616.8" x2="637.6" y1="222.29999999999998" y2="222.29999999999998" stroke="#000080" stroke-width="1.1"/>
<text x="639.70" y="225.80" font-size="8.8" text-anchor="start" >403 K</text>
<line x1="616.8" x2="637.6" y1="232.95" y2="232.95" stroke="#008080" stroke-width="1.1"/>
<text x="639.70" y="236.45" font-size="8.8" text-anchor="start" >423 K</text>
<rect x="610.9" y="172.8" width="147.30000000000007" height="144.09999999999997" fill="none" stroke="#2a2a2a" stroke-width="1.3"/>
<path d="M613.90 316.9 v-4 M649.10 316.9 v-4 M684.30 316.9 v-4 M719.50 316.9 v-4 M754.70 316.9 v-4 M631.50 316.9 v-2.3 M666.70 316.9 v-2.3 M701.90 316.9 v-2.3 M737.10 316.9 v-2.3 M610.9 192.90 h4 M610.9 244.80 h4 M610.9 296.70 h4 M610.9 218.85 h2.3 M610.9 270.75 h2.3" stroke="#111" stroke-width="1.1" fill="none"/>
<text x="613.90" y="328.70" font-size="10.3" text-anchor="middle" >-40</text>
<text x="649.10" y="328.70" font-size="10.3" text-anchor="middle" >-20</text>
<text x="684.30" y="328.70" font-size="10.3" text-anchor="middle" >0</text>
<text x="719.50" y="328.70" font-size="10.3" text-anchor="middle" >20</text>
<text x="754.70" y="328.70" font-size="10.3" text-anchor="middle" >40</text>
<text x="606.60" y="196.40" font-size="10.3" text-anchor="end" >10</text>
<text x="606.60" y="248.30" font-size="10.3" text-anchor="end" >0</text>
<text x="606.60" y="300.20" font-size="10.3" text-anchor="end" >-10</text>
<text x="592.9" y="170.2" font-size="22.4">t<tspan font-size="13.5" dy="7.3">4</tspan></text>
<text x="670.20" y="182.60" font-size="12.6" text-anchor="start" >x = 0.06</text>
<text x="702.10" y="293.40" font-size="8.6" text-anchor="start" >E = 40 kV/cm,</text>
<text x="702.10" y="304.00" font-size="8.6" text-anchor="start" >f = 50 Hz</text>
<text x="325.2" y="351.2" font-size="21.85">Electric field (kV/cm)</text>
<text transform="translate(16.3 255.4) rotate(-90)" x="0" y="0" font-size="21.85">Polarization (μC/cm<tspan font-size="13" dy="-8.5">2</tspan><tspan dy="8.5">)</tspan></text>
</svg>
</body></html>
